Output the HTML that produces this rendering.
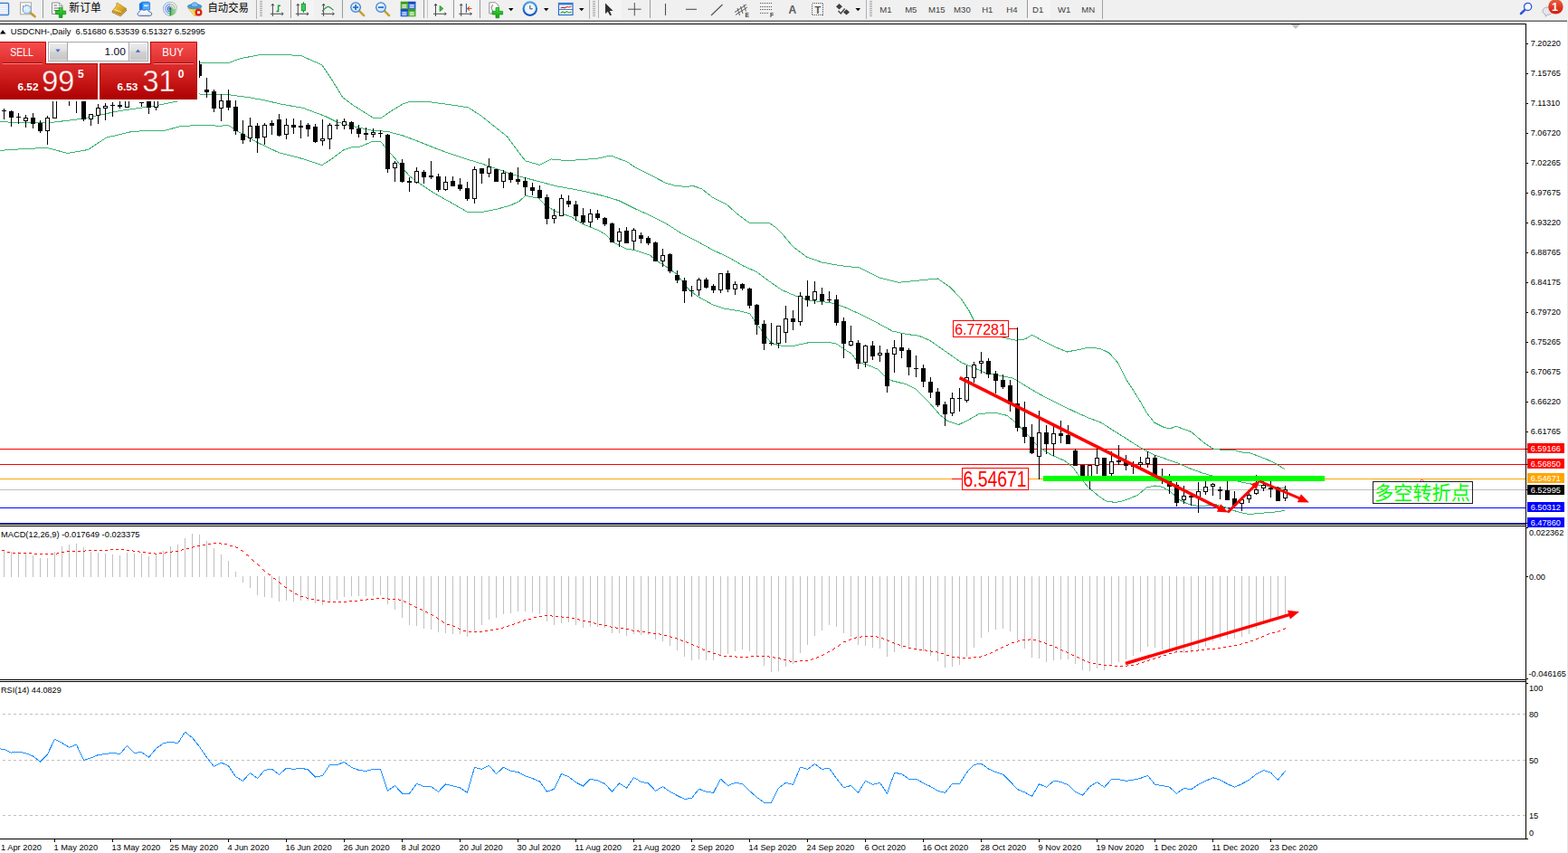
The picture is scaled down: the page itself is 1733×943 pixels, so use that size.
<!DOCTYPE html>
<html><head><meta charset="utf-8"><title>USDCNH Daily</title>
<style>html,body{margin:0;padding:0;background:#fff;}body{width:1733px;height:943px;overflow:hidden;font-family:"Liberation Sans",sans-serif;}svg{display:block}</style>
</head><body>
<svg width="1733" height="943" viewBox="0 0 1733 943">
<rect x="0" y="0" width="1733" height="943" fill="#ffffff"/>
<rect x="0" y="0" width="1733" height="21" fill="#f0f0f0"/>
<rect x="0" y="21" width="1733" height="1" fill="#f6f6f6"/>
<rect x="0" y="22" width="1732" height="1" fill="#b0b0b0"/>
<rect x="0" y="23" width="1732" height="1" fill="#666666"/>
<rect x="1732" y="22" width="1" height="921" fill="#e6e6e6"/>
<defs><clipPath id="cm"><rect x="0" y="27" width="1686" height="552"/></clipPath></defs>
<g id="main" clip-path="url(#cm)">
<g shape-rendering="crispEdges">
<rect x="0" y="496" width="1686" height="1" fill="#ff0000"/>
<rect x="0" y="513" width="1686" height="1" fill="#ff0000"/>
<rect x="0" y="529" width="1686" height="1" fill="#ffa500"/>
<rect x="0" y="541" width="1686" height="1" fill="#c0c0c0"/>
<rect x="0" y="561" width="1686" height="1" fill="#0000ff"/>
<rect x="0" y="578" width="1686" height="1" fill="#0000ff"/>
</g>
<polyline fill="none" points="218.0,69.6 221.6,69.4 251.9,69.7 266.4,64.5 286.6,60.8 309.6,60.2 332.7,61.6 355.8,71.7 367.3,89.0 378.9,107.8 390.4,116.5 402.0,123.7 413.5,130.9 420.7,130.9 430.8,123.7 445.2,115.0 453.9,112.1 477.0,113.0 503.0,116.5 517.4,118.8 531.8,128.0 546.2,139.5 560.6,151.1 572.2,166.9 580.8,177.9 596.4,182.3 609.4,175.9 625.0,177.6 640.0,176.8 661.6,175.0 670.0,173.0 676.0,172.3 682.1,174.8 692.5,178.5 701.2,184.5 718.5,193.2 735.8,202.3 746.2,205.3 756.6,206.2 767.0,205.8 775.6,208.8 787.7,218.3 803.3,226.1 813.7,235.6 827.5,246.0 850.0,246.3 857.0,251.2 865.6,259.8 874.3,270.2 877.0,273.2 891.7,284.1 908.8,290.2 930.7,293.9 949.8,295.9 972.3,307.1 993.1,312.3 1013.9,310.2 1036.4,308.0 1050.2,317.5 1062.3,330.5 1071.0,343.5 1076.2,353.9 1085.0,362.0 1095.0,368.0 1104.0,372.0 1113.7,374.4 1123.4,376.3 1133.2,374.9 1140.5,370.2 1152.7,376.8 1167.3,384.1 1179.5,389.0 1191.7,386.6 1203.9,384.1 1216.1,385.4 1225.9,390.2 1235.6,401.2 1245.4,420.7 1251.6,430.0 1260.2,443.8 1267.1,456.0 1275.8,467.2 1286.2,472.4 1293.1,474.1 1300.0,471.0 1307.0,474.1 1316.4,477.3 1329.6,488.6 1340.2,495.9 1350.9,497.5 1362.8,497.2 1372.1,499.9 1381.4,500.8 1390.7,504.2 1400.0,507.8 1409.3,512.2 1419.9,518.7" stroke="#3cb371" stroke-width="1" shape-rendering="crispEdges"/>
<polyline fill="none" points="0.0,134.8 52.0,136.0 90.0,131.4 131.5,122.7 173.0,116.6 195.6,112.0 220.0,104.0 251.0,104.5 277.0,108.0 290.0,110.4 310.8,115.1 335.0,119.4 359.2,128.4 371.4,134.5 386.9,138.8 411.2,144.2 428.5,145.4 445.8,150.1 463.1,156.6 480.4,163.6 497.7,170.0 515.0,175.7 532.3,180.9 549.6,186.9 567.0,193.0 580.0,196.6 597.3,201.0 614.6,205.8 631.9,208.8 649.2,212.2 666.5,216.5 683.9,221.7 701.2,230.4 718.5,238.2 735.8,246.8 753.1,258.1 770.4,266.7 787.7,276.3 805.0,284.4 822.3,294.4 836.2,300.5 846.0,308.0 863.3,320.1 878.9,327.0 894.4,332.2 916.9,334.5 932.5,339.1 949.8,346.9 967.1,355.6 986.2,366.0 1001.8,369.4 1015.6,371.2 1027.7,376.4 1045.0,388.5 1062.3,400.6 1074.5,405.8 1090.0,412.7 1105.6,415.3 1120.0,418.2 1139.0,430.0 1151.2,436.9 1168.5,445.6 1185.8,454.2 1203.1,462.0 1217.0,467.2 1229.0,475.0 1242.9,483.7 1255.0,491.5 1263.3,496.5 1276.5,503.2 1289.8,507.8 1303.1,512.5 1316.4,518.4 1329.6,523.1 1337.6,525.5 1353.0,528.5 1369.4,532.4 1377.4,534.0 1384.0,535.3 1395.0,537.0 1408.0,538.5 1420.0,540.0" stroke="#3cb371" stroke-width="1" shape-rendering="crispEdges"/>
<polyline fill="none" points="0.0,166.3 26.0,164.6 52.0,163.4 74.4,169.4 97.0,165.6 117.7,152.1 147.0,145.2 181.8,144.3 200.0,139.5 228.9,138.1 243.3,139.5 251.9,138.1 261.4,144.3 283.9,157.3 290.0,160.1 309.0,169.1 333.3,175.2 355.8,182.6 366.2,176.0 380.0,165.6 388.7,162.7 397.3,162.4 411.2,156.6 420.7,156.3 428.5,166.2 437.1,175.7 445.8,186.9 452.7,194.7 463.1,202.5 480.4,213.8 497.7,223.6 516.8,234.5 532.3,234.5 549.6,231.1 565.2,226.7 573.9,222.4 580.8,216.5 595.6,219.1 602.5,226.9 614.6,233.9 631.9,239.9 644.0,247.7 661.4,254.6 670.0,259.8 676.9,267.6 692.5,275.4 701.2,276.3 718.5,282.3 727.1,289.2 735.8,294.4 747.9,303.1 760.0,318.7 770.4,327.3 787.7,336.8 800.0,341.0 812.0,343.0 820.0,344.3 828.7,346.9 837.3,359.0 846.0,371.2 852.9,379.8 865.0,382.4 877.1,382.4 894.4,378.6 916.9,378.6 923.9,379.8 934.2,386.7 941.2,391.1 948.1,400.6 958.5,403.2 970.6,408.4 977.5,415.3 984.4,420.5 1001.8,424.8 1012.1,430.0 1024.3,442.1 1032.9,451.7 1038.7,458.6 1047.3,465.5 1059.4,469.5 1069.8,464.6 1081.9,457.7 1099.2,456.0 1113.1,459.4 1121.7,466.4 1133.9,478.5 1147.7,494.0 1161.6,502.7 1177.1,509.6 1185.8,516.6 1194.4,528.7 1203.1,539.1 1213.5,547.7 1222.1,553.8 1232.5,555.5 1241.2,553.8 1250.0,550.6 1258.0,547.0 1267.3,539.0 1276.5,537.0 1284.5,538.3 1293.8,543.7 1303.1,552.3 1312.4,556.9 1324.3,559.6 1334.9,558.9 1342.9,557.6 1352.0,560.0 1362.8,564.2 1372.1,566.9 1381.4,568.6 1390.7,567.5 1402.6,566.6 1413.2,565.6 1419.9,564.0" stroke="#3cb371" stroke-width="1" shape-rendering="crispEdges"/>
<g id="candles" shape-rendering="crispEdges">
<rect x="4" y="120" width="1" height="12" fill="#000"/>
<rect x="2" y="122" width="5" height="1" fill="#000"/>
<rect x="12" y="122" width="1" height="18" fill="#000"/>
<rect x="10" y="123" width="5" height="7" fill="#000"/>
<rect x="20" y="125" width="1" height="12" fill="#000"/>
<rect x="18" y="129" width="5" height="1" fill="#000"/>
<rect x="28" y="127" width="1" height="14" fill="#000"/>
<rect x="26" y="130" width="5" height="4" fill="#000"/>
<rect x="27" y="131" width="3" height="2" fill="#fff"/>
<rect x="36" y="125" width="1" height="17" fill="#000"/>
<rect x="34" y="130" width="5" height="7" fill="#000"/>
<rect x="44" y="133" width="1" height="14" fill="#000"/>
<rect x="42" y="136" width="5" height="9" fill="#000"/>
<rect x="52" y="128" width="1" height="32" fill="#000"/>
<rect x="50" y="130" width="5" height="15" fill="#000"/>
<rect x="51" y="131" width="3" height="13" fill="#fff"/>
<rect x="60" y="96" width="1" height="35" fill="#000"/>
<rect x="58" y="100" width="5" height="31" fill="#000"/>
<rect x="59" y="101" width="3" height="29" fill="#fff"/>
<rect x="68" y="97" width="1" height="12" fill="#000"/>
<rect x="66" y="100" width="5" height="6" fill="#000"/>
<rect x="76" y="100" width="1" height="17" fill="#000"/>
<rect x="74" y="104" width="5" height="4" fill="#000"/>
<rect x="84" y="98" width="1" height="27" fill="#000"/>
<rect x="82" y="100" width="5" height="6" fill="#000"/>
<rect x="92" y="104" width="1" height="30" fill="#000"/>
<rect x="90" y="108" width="5" height="24" fill="#000"/>
<rect x="100" y="126" width="1" height="13" fill="#000"/>
<rect x="98" y="126" width="5" height="6" fill="#000"/>
<rect x="99" y="127" width="3" height="4" fill="#fff"/>
<rect x="108" y="115" width="1" height="22" fill="#000"/>
<rect x="106" y="119" width="5" height="9" fill="#000"/>
<rect x="107" y="120" width="3" height="7" fill="#fff"/>
<rect x="116" y="114" width="1" height="19" fill="#000"/>
<rect x="114" y="117" width="5" height="3" fill="#000"/>
<rect x="115" y="118" width="3" height="1" fill="#fff"/>
<rect x="124" y="113" width="1" height="16" fill="#000"/>
<rect x="122" y="116" width="5" height="1" fill="#000"/>
<rect x="132" y="112" width="1" height="8" fill="#000"/>
<rect x="130" y="116" width="5" height="2" fill="#000"/>
<rect x="140" y="105" width="1" height="14" fill="#000"/>
<rect x="138" y="108" width="5" height="11" fill="#000"/>
<rect x="139" y="109" width="3" height="9" fill="#fff"/>
<rect x="148" y="100" width="1" height="10" fill="#000"/>
<rect x="146" y="104" width="5" height="5" fill="#000"/>
<rect x="147" y="105" width="3" height="3" fill="#fff"/>
<rect x="156" y="113" width="1" height="5" fill="#000"/>
<rect x="154" y="113" width="5" height="1" fill="#000"/>
<rect x="164" y="103" width="1" height="23" fill="#000"/>
<rect x="162" y="106" width="5" height="13" fill="#000"/>
<rect x="172" y="100" width="1" height="22" fill="#000"/>
<rect x="170" y="104" width="5" height="15" fill="#000"/>
<rect x="171" y="105" width="3" height="13" fill="#fff"/>
<rect x="180" y="92" width="1" height="16" fill="#000"/>
<rect x="178" y="96" width="5" height="8" fill="#000"/>
<rect x="179" y="97" width="3" height="6" fill="#fff"/>
<rect x="188" y="86" width="1" height="14" fill="#000"/>
<rect x="186" y="90" width="5" height="7" fill="#000"/>
<rect x="187" y="91" width="3" height="5" fill="#fff"/>
<rect x="196" y="78" width="1" height="16" fill="#000"/>
<rect x="194" y="82" width="5" height="9" fill="#000"/>
<rect x="195" y="83" width="3" height="7" fill="#fff"/>
<rect x="204" y="71" width="1" height="16" fill="#000"/>
<rect x="202" y="75" width="5" height="8" fill="#000"/>
<rect x="203" y="76" width="3" height="6" fill="#fff"/>
<rect x="212" y="65" width="1" height="16" fill="#000"/>
<rect x="210" y="69" width="5" height="8" fill="#000"/>
<rect x="211" y="70" width="3" height="6" fill="#fff"/>
<rect x="220" y="67" width="1" height="19" fill="#000"/>
<rect x="218" y="71" width="5" height="13" fill="#000"/>
<rect x="228" y="86" width="1" height="22" fill="#000"/>
<rect x="226" y="99" width="5" height="3" fill="#000"/>
<rect x="236" y="99" width="1" height="25" fill="#000"/>
<rect x="234" y="101" width="5" height="19" fill="#000"/>
<rect x="244" y="104" width="1" height="30" fill="#000"/>
<rect x="242" y="111" width="5" height="9" fill="#000"/>
<rect x="243" y="112" width="3" height="7" fill="#fff"/>
<rect x="252" y="99" width="1" height="23" fill="#000"/>
<rect x="250" y="111" width="5" height="8" fill="#000"/>
<rect x="260" y="111" width="1" height="38" fill="#000"/>
<rect x="258" y="118" width="5" height="27" fill="#000"/>
<rect x="268" y="133" width="1" height="26" fill="#000"/>
<rect x="266" y="148" width="5" height="7" fill="#000"/>
<rect x="276" y="130" width="1" height="27" fill="#000"/>
<rect x="274" y="139" width="5" height="14" fill="#000"/>
<rect x="275" y="140" width="3" height="12" fill="#fff"/>
<rect x="284" y="136" width="1" height="33" fill="#000"/>
<rect x="282" y="139" width="5" height="14" fill="#000"/>
<rect x="292" y="136" width="1" height="24" fill="#000"/>
<rect x="290" y="138" width="5" height="14" fill="#000"/>
<rect x="291" y="139" width="3" height="12" fill="#fff"/>
<rect x="300" y="133" width="1" height="16" fill="#000"/>
<rect x="298" y="136" width="5" height="3" fill="#000"/>
<rect x="308" y="126" width="1" height="25" fill="#000"/>
<rect x="306" y="132" width="5" height="18" fill="#000"/>
<rect x="316" y="131" width="1" height="23" fill="#000"/>
<rect x="314" y="138" width="5" height="11" fill="#000"/>
<rect x="315" y="139" width="3" height="9" fill="#fff"/>
<rect x="324" y="131" width="1" height="17" fill="#000"/>
<rect x="322" y="138" width="5" height="3" fill="#000"/>
<rect x="332" y="133" width="1" height="20" fill="#000"/>
<rect x="330" y="139" width="5" height="2" fill="#000"/>
<rect x="340" y="136" width="1" height="15" fill="#000"/>
<rect x="338" y="138" width="5" height="5" fill="#000"/>
<rect x="348" y="137" width="1" height="21" fill="#000"/>
<rect x="346" y="140" width="5" height="17" fill="#000"/>
<rect x="356" y="132" width="1" height="29" fill="#000"/>
<rect x="354" y="153" width="5" height="3" fill="#000"/>
<rect x="355" y="154" width="3" height="1" fill="#fff"/>
<rect x="364" y="136" width="1" height="29" fill="#000"/>
<rect x="362" y="138" width="5" height="16" fill="#000"/>
<rect x="363" y="139" width="3" height="14" fill="#fff"/>
<rect x="372" y="132" width="1" height="11" fill="#000"/>
<rect x="370" y="138" width="5" height="1" fill="#000"/>
<rect x="380" y="131" width="1" height="12" fill="#000"/>
<rect x="378" y="134" width="5" height="5" fill="#000"/>
<rect x="379" y="135" width="3" height="3" fill="#fff"/>
<rect x="388" y="134" width="1" height="14" fill="#000"/>
<rect x="386" y="135" width="5" height="8" fill="#000"/>
<rect x="396" y="138" width="1" height="14" fill="#000"/>
<rect x="394" y="142" width="5" height="6" fill="#000"/>
<rect x="404" y="141" width="1" height="14" fill="#000"/>
<rect x="402" y="147" width="5" height="2" fill="#000"/>
<rect x="412" y="142" width="1" height="10" fill="#000"/>
<rect x="410" y="146" width="5" height="3" fill="#000"/>
<rect x="411" y="147" width="3" height="1" fill="#fff"/>
<rect x="420" y="144" width="1" height="8" fill="#000"/>
<rect x="418" y="147" width="5" height="1" fill="#000"/>
<rect x="428" y="148" width="1" height="43" fill="#000"/>
<rect x="426" y="149" width="5" height="38" fill="#000"/>
<rect x="436" y="178" width="1" height="23" fill="#000"/>
<rect x="434" y="180" width="5" height="6" fill="#000"/>
<rect x="435" y="181" width="3" height="4" fill="#fff"/>
<rect x="444" y="176" width="1" height="26" fill="#000"/>
<rect x="442" y="180" width="5" height="21" fill="#000"/>
<rect x="452" y="196" width="1" height="16" fill="#000"/>
<rect x="450" y="200" width="5" height="2" fill="#000"/>
<rect x="460" y="185" width="1" height="18" fill="#000"/>
<rect x="458" y="189" width="5" height="13" fill="#000"/>
<rect x="459" y="190" width="3" height="11" fill="#fff"/>
<rect x="468" y="188" width="1" height="15" fill="#000"/>
<rect x="466" y="190" width="5" height="6" fill="#000"/>
<rect x="476" y="178" width="1" height="20" fill="#000"/>
<rect x="474" y="194" width="5" height="2" fill="#000"/>
<rect x="484" y="192" width="1" height="20" fill="#000"/>
<rect x="482" y="195" width="5" height="15" fill="#000"/>
<rect x="492" y="195" width="1" height="16" fill="#000"/>
<rect x="490" y="201" width="5" height="9" fill="#000"/>
<rect x="491" y="202" width="3" height="7" fill="#fff"/>
<rect x="500" y="195" width="1" height="11" fill="#000"/>
<rect x="498" y="200" width="5" height="6" fill="#000"/>
<rect x="508" y="197" width="1" height="14" fill="#000"/>
<rect x="506" y="204" width="5" height="5" fill="#000"/>
<rect x="516" y="201" width="1" height="21" fill="#000"/>
<rect x="514" y="208" width="5" height="12" fill="#000"/>
<rect x="524" y="184" width="1" height="41" fill="#000"/>
<rect x="522" y="187" width="5" height="33" fill="#000"/>
<rect x="523" y="188" width="3" height="31" fill="#fff"/>
<rect x="532" y="186" width="1" height="17" fill="#000"/>
<rect x="530" y="186" width="5" height="6" fill="#000"/>
<rect x="540" y="175" width="1" height="21" fill="#000"/>
<rect x="538" y="184" width="5" height="8" fill="#000"/>
<rect x="539" y="185" width="3" height="6" fill="#fff"/>
<rect x="548" y="187" width="1" height="14" fill="#000"/>
<rect x="546" y="187" width="5" height="14" fill="#000"/>
<rect x="556" y="188" width="1" height="20" fill="#000"/>
<rect x="554" y="191" width="5" height="10" fill="#000"/>
<rect x="555" y="192" width="3" height="8" fill="#fff"/>
<rect x="564" y="190" width="1" height="12" fill="#000"/>
<rect x="562" y="191" width="5" height="8" fill="#000"/>
<rect x="572" y="185" width="1" height="19" fill="#000"/>
<rect x="570" y="198" width="5" height="3" fill="#000"/>
<rect x="580" y="196" width="1" height="20" fill="#000"/>
<rect x="578" y="200" width="5" height="7" fill="#000"/>
<rect x="588" y="202" width="1" height="14" fill="#000"/>
<rect x="586" y="207" width="5" height="4" fill="#000"/>
<rect x="596" y="205" width="1" height="14" fill="#000"/>
<rect x="594" y="210" width="5" height="9" fill="#000"/>
<rect x="604" y="215" width="1" height="33" fill="#000"/>
<rect x="602" y="218" width="5" height="24" fill="#000"/>
<rect x="612" y="231" width="1" height="16" fill="#000"/>
<rect x="610" y="238" width="5" height="4" fill="#000"/>
<rect x="611" y="239" width="3" height="2" fill="#fff"/>
<rect x="620" y="215" width="1" height="24" fill="#000"/>
<rect x="618" y="219" width="5" height="20" fill="#000"/>
<rect x="619" y="220" width="3" height="18" fill="#fff"/>
<rect x="628" y="216" width="1" height="13" fill="#000"/>
<rect x="626" y="222" width="5" height="4" fill="#000"/>
<rect x="636" y="222" width="1" height="22" fill="#000"/>
<rect x="634" y="226" width="5" height="13" fill="#000"/>
<rect x="644" y="230" width="1" height="18" fill="#000"/>
<rect x="642" y="238" width="5" height="8" fill="#000"/>
<rect x="652" y="231" width="1" height="20" fill="#000"/>
<rect x="650" y="236" width="5" height="10" fill="#000"/>
<rect x="651" y="237" width="3" height="8" fill="#fff"/>
<rect x="660" y="232" width="1" height="11" fill="#000"/>
<rect x="658" y="236" width="5" height="5" fill="#000"/>
<rect x="668" y="240" width="1" height="10" fill="#000"/>
<rect x="666" y="241" width="5" height="7" fill="#000"/>
<rect x="676" y="246" width="1" height="22" fill="#000"/>
<rect x="674" y="247" width="5" height="21" fill="#000"/>
<rect x="684" y="252" width="1" height="21" fill="#000"/>
<rect x="682" y="256" width="5" height="11" fill="#000"/>
<rect x="683" y="257" width="3" height="9" fill="#fff"/>
<rect x="692" y="251" width="1" height="18" fill="#000"/>
<rect x="690" y="255" width="5" height="14" fill="#000"/>
<rect x="700" y="252" width="1" height="24" fill="#000"/>
<rect x="698" y="254" width="5" height="13" fill="#000"/>
<rect x="699" y="255" width="3" height="11" fill="#fff"/>
<rect x="708" y="257" width="1" height="12" fill="#000"/>
<rect x="706" y="260" width="5" height="4" fill="#000"/>
<rect x="716" y="261" width="1" height="10" fill="#000"/>
<rect x="714" y="263" width="5" height="6" fill="#000"/>
<rect x="724" y="267" width="1" height="22" fill="#000"/>
<rect x="722" y="268" width="5" height="21" fill="#000"/>
<rect x="732" y="275" width="1" height="20" fill="#000"/>
<rect x="730" y="282" width="5" height="7" fill="#000"/>
<rect x="731" y="283" width="3" height="5" fill="#fff"/>
<rect x="740" y="280" width="1" height="22" fill="#000"/>
<rect x="738" y="281" width="5" height="19" fill="#000"/>
<rect x="748" y="299" width="1" height="14" fill="#000"/>
<rect x="746" y="304" width="5" height="6" fill="#000"/>
<rect x="756" y="307" width="1" height="28" fill="#000"/>
<rect x="754" y="310" width="5" height="12" fill="#000"/>
<rect x="764" y="316" width="1" height="12" fill="#000"/>
<rect x="762" y="321" width="5" height="1" fill="#000"/>
<rect x="772" y="307" width="1" height="20" fill="#000"/>
<rect x="770" y="309" width="5" height="12" fill="#000"/>
<rect x="771" y="310" width="3" height="10" fill="#fff"/>
<rect x="780" y="307" width="1" height="12" fill="#000"/>
<rect x="778" y="309" width="5" height="9" fill="#000"/>
<rect x="788" y="314" width="1" height="10" fill="#000"/>
<rect x="786" y="316" width="5" height="5" fill="#000"/>
<rect x="796" y="302" width="1" height="22" fill="#000"/>
<rect x="794" y="302" width="5" height="19" fill="#000"/>
<rect x="795" y="303" width="3" height="17" fill="#fff"/>
<rect x="804" y="299" width="1" height="24" fill="#000"/>
<rect x="802" y="302" width="5" height="18" fill="#000"/>
<rect x="812" y="311" width="1" height="15" fill="#000"/>
<rect x="810" y="314" width="5" height="6" fill="#000"/>
<rect x="811" y="315" width="3" height="4" fill="#fff"/>
<rect x="820" y="313" width="1" height="8" fill="#000"/>
<rect x="818" y="314" width="5" height="5" fill="#000"/>
<rect x="828" y="318" width="1" height="23" fill="#000"/>
<rect x="826" y="319" width="5" height="19" fill="#000"/>
<rect x="836" y="336" width="1" height="34" fill="#000"/>
<rect x="834" y="337" width="5" height="22" fill="#000"/>
<rect x="844" y="354" width="1" height="33" fill="#000"/>
<rect x="842" y="358" width="5" height="22" fill="#000"/>
<rect x="852" y="357" width="1" height="25" fill="#000"/>
<rect x="850" y="379" width="5" height="1" fill="#000"/>
<rect x="860" y="360" width="1" height="25" fill="#000"/>
<rect x="858" y="360" width="5" height="20" fill="#000"/>
<rect x="859" y="361" width="3" height="18" fill="#fff"/>
<rect x="868" y="338" width="1" height="41" fill="#000"/>
<rect x="866" y="352" width="5" height="16" fill="#000"/>
<rect x="867" y="353" width="3" height="14" fill="#fff"/>
<rect x="876" y="343" width="1" height="22" fill="#000"/>
<rect x="874" y="352" width="5" height="4" fill="#000"/>
<rect x="884" y="323" width="1" height="37" fill="#000"/>
<rect x="882" y="327" width="5" height="29" fill="#000"/>
<rect x="883" y="328" width="3" height="27" fill="#fff"/>
<rect x="892" y="310" width="1" height="29" fill="#000"/>
<rect x="890" y="327" width="5" height="5" fill="#000"/>
<rect x="900" y="311" width="1" height="25" fill="#000"/>
<rect x="898" y="322" width="5" height="10" fill="#000"/>
<rect x="899" y="323" width="3" height="8" fill="#fff"/>
<rect x="908" y="318" width="1" height="19" fill="#000"/>
<rect x="906" y="325" width="5" height="8" fill="#000"/>
<rect x="916" y="322" width="1" height="12" fill="#000"/>
<rect x="914" y="331" width="5" height="1" fill="#000"/>
<rect x="924" y="326" width="1" height="34" fill="#000"/>
<rect x="922" y="331" width="5" height="26" fill="#000"/>
<rect x="932" y="351" width="1" height="45" fill="#000"/>
<rect x="930" y="355" width="5" height="25" fill="#000"/>
<rect x="940" y="360" width="1" height="23" fill="#000"/>
<rect x="938" y="377" width="5" height="5" fill="#000"/>
<rect x="939" y="378" width="3" height="3" fill="#fff"/>
<rect x="948" y="376" width="1" height="32" fill="#000"/>
<rect x="946" y="379" width="5" height="23" fill="#000"/>
<rect x="956" y="381" width="1" height="25" fill="#000"/>
<rect x="954" y="382" width="5" height="19" fill="#000"/>
<rect x="955" y="383" width="3" height="17" fill="#fff"/>
<rect x="964" y="377" width="1" height="21" fill="#000"/>
<rect x="962" y="382" width="5" height="12" fill="#000"/>
<rect x="972" y="382" width="1" height="18" fill="#000"/>
<rect x="970" y="390" width="5" height="3" fill="#000"/>
<rect x="971" y="391" width="3" height="1" fill="#fff"/>
<rect x="980" y="386" width="1" height="48" fill="#000"/>
<rect x="978" y="390" width="5" height="37" fill="#000"/>
<rect x="988" y="376" width="1" height="36" fill="#000"/>
<rect x="986" y="384" width="5" height="8" fill="#000"/>
<rect x="987" y="385" width="3" height="6" fill="#fff"/>
<rect x="996" y="369" width="1" height="27" fill="#000"/>
<rect x="994" y="384" width="5" height="4" fill="#000"/>
<rect x="1004" y="385" width="1" height="30" fill="#000"/>
<rect x="1002" y="387" width="5" height="19" fill="#000"/>
<rect x="1012" y="393" width="1" height="24" fill="#000"/>
<rect x="1010" y="407" width="5" height="1" fill="#000"/>
<rect x="1020" y="403" width="1" height="25" fill="#000"/>
<rect x="1018" y="407" width="5" height="15" fill="#000"/>
<rect x="1028" y="417" width="1" height="23" fill="#000"/>
<rect x="1026" y="422" width="5" height="12" fill="#000"/>
<rect x="1036" y="429" width="1" height="21" fill="#000"/>
<rect x="1034" y="433" width="5" height="15" fill="#000"/>
<rect x="1044" y="444" width="1" height="27" fill="#000"/>
<rect x="1042" y="447" width="5" height="11" fill="#000"/>
<rect x="1052" y="434" width="1" height="26" fill="#000"/>
<rect x="1050" y="440" width="5" height="17" fill="#000"/>
<rect x="1051" y="441" width="3" height="15" fill="#fff"/>
<rect x="1060" y="429" width="1" height="26" fill="#000"/>
<rect x="1058" y="440" width="5" height="1" fill="#000"/>
<rect x="1068" y="404" width="1" height="41" fill="#000"/>
<rect x="1066" y="417" width="5" height="26" fill="#000"/>
<rect x="1067" y="418" width="3" height="24" fill="#fff"/>
<rect x="1076" y="400" width="1" height="23" fill="#000"/>
<rect x="1074" y="403" width="5" height="15" fill="#000"/>
<rect x="1075" y="404" width="3" height="13" fill="#fff"/>
<rect x="1084" y="389" width="1" height="24" fill="#000"/>
<rect x="1082" y="399" width="5" height="3" fill="#000"/>
<rect x="1083" y="400" width="3" height="1" fill="#fff"/>
<rect x="1092" y="396" width="1" height="22" fill="#000"/>
<rect x="1090" y="399" width="5" height="15" fill="#000"/>
<rect x="1100" y="410" width="1" height="25" fill="#000"/>
<rect x="1098" y="413" width="5" height="8" fill="#000"/>
<rect x="1108" y="414" width="1" height="16" fill="#000"/>
<rect x="1106" y="420" width="5" height="8" fill="#000"/>
<rect x="1116" y="420" width="1" height="35" fill="#000"/>
<rect x="1114" y="426" width="5" height="21" fill="#000"/>
<rect x="1124" y="362" width="1" height="115" fill="#000"/>
<rect x="1122" y="446" width="5" height="27" fill="#000"/>
<rect x="1132" y="444" width="1" height="46" fill="#000"/>
<rect x="1130" y="472" width="5" height="11" fill="#000"/>
<rect x="1140" y="469" width="1" height="33" fill="#000"/>
<rect x="1138" y="483" width="5" height="18" fill="#000"/>
<rect x="1148" y="454" width="1" height="76" fill="#000"/>
<rect x="1146" y="478" width="5" height="27" fill="#000"/>
<rect x="1147" y="479" width="3" height="25" fill="#fff"/>
<rect x="1156" y="470" width="1" height="32" fill="#000"/>
<rect x="1154" y="478" width="5" height="13" fill="#000"/>
<rect x="1164" y="470" width="1" height="34" fill="#000"/>
<rect x="1162" y="479" width="5" height="12" fill="#000"/>
<rect x="1163" y="480" width="3" height="10" fill="#fff"/>
<rect x="1172" y="465" width="1" height="25" fill="#000"/>
<rect x="1170" y="479" width="5" height="3" fill="#000"/>
<rect x="1180" y="470" width="1" height="21" fill="#000"/>
<rect x="1178" y="481" width="5" height="10" fill="#000"/>
<rect x="1188" y="496" width="1" height="19" fill="#000"/>
<rect x="1186" y="498" width="5" height="17" fill="#000"/>
<rect x="1196" y="514" width="1" height="15" fill="#000"/>
<rect x="1194" y="514" width="5" height="15" fill="#000"/>
<rect x="1204" y="514" width="1" height="27" fill="#000"/>
<rect x="1202" y="514" width="5" height="15" fill="#000"/>
<rect x="1203" y="515" width="3" height="13" fill="#fff"/>
<rect x="1212" y="496" width="1" height="28" fill="#000"/>
<rect x="1210" y="506" width="5" height="9" fill="#000"/>
<rect x="1211" y="507" width="3" height="7" fill="#fff"/>
<rect x="1220" y="506" width="1" height="23" fill="#000"/>
<rect x="1218" y="506" width="5" height="23" fill="#000"/>
<rect x="1228" y="499" width="1" height="27" fill="#000"/>
<rect x="1226" y="510" width="5" height="14" fill="#000"/>
<rect x="1227" y="511" width="3" height="12" fill="#fff"/>
<rect x="1236" y="492" width="1" height="22" fill="#000"/>
<rect x="1234" y="509" width="5" height="2" fill="#000"/>
<rect x="1244" y="503" width="1" height="17" fill="#000"/>
<rect x="1242" y="510" width="5" height="5" fill="#000"/>
<rect x="1252" y="510" width="1" height="14" fill="#000"/>
<rect x="1250" y="515" width="5" height="1" fill="#000"/>
<rect x="1260" y="505" width="1" height="11" fill="#000"/>
<rect x="1258" y="511" width="5" height="3" fill="#000"/>
<rect x="1259" y="512" width="3" height="1" fill="#fff"/>
<rect x="1268" y="499" width="1" height="18" fill="#000"/>
<rect x="1266" y="506" width="5" height="7" fill="#000"/>
<rect x="1267" y="507" width="3" height="5" fill="#fff"/>
<rect x="1276" y="503" width="1" height="24" fill="#000"/>
<rect x="1274" y="506" width="5" height="21" fill="#000"/>
<rect x="1284" y="518" width="1" height="17" fill="#000"/>
<rect x="1282" y="528" width="5" height="2" fill="#000"/>
<rect x="1292" y="524" width="1" height="22" fill="#000"/>
<rect x="1290" y="532" width="5" height="6" fill="#000"/>
<rect x="1300" y="533" width="1" height="27" fill="#000"/>
<rect x="1298" y="536" width="5" height="20" fill="#000"/>
<rect x="1308" y="537" width="1" height="20" fill="#000"/>
<rect x="1306" y="548" width="5" height="5" fill="#000"/>
<rect x="1307" y="549" width="3" height="3" fill="#fff"/>
<rect x="1316" y="546" width="1" height="13" fill="#000"/>
<rect x="1314" y="548" width="5" height="2" fill="#000"/>
<rect x="1324" y="533" width="1" height="34" fill="#000"/>
<rect x="1322" y="543" width="5" height="8" fill="#000"/>
<rect x="1323" y="544" width="3" height="6" fill="#fff"/>
<rect x="1332" y="532" width="1" height="15" fill="#000"/>
<rect x="1330" y="538" width="5" height="6" fill="#000"/>
<rect x="1331" y="539" width="3" height="4" fill="#fff"/>
<rect x="1340" y="534" width="1" height="14" fill="#000"/>
<rect x="1338" y="535" width="5" height="3" fill="#000"/>
<rect x="1339" y="536" width="3" height="1" fill="#fff"/>
<rect x="1348" y="538" width="1" height="14" fill="#000"/>
<rect x="1346" y="541" width="5" height="2" fill="#000"/>
<rect x="1356" y="532" width="1" height="21" fill="#000"/>
<rect x="1354" y="542" width="5" height="11" fill="#000"/>
<rect x="1364" y="543" width="1" height="16" fill="#000"/>
<rect x="1362" y="551" width="5" height="8" fill="#000"/>
<rect x="1372" y="552" width="1" height="13" fill="#000"/>
<rect x="1370" y="552" width="5" height="5" fill="#000"/>
<rect x="1371" y="553" width="3" height="3" fill="#fff"/>
<rect x="1380" y="541" width="1" height="15" fill="#000"/>
<rect x="1378" y="547" width="5" height="5" fill="#000"/>
<rect x="1379" y="548" width="3" height="3" fill="#fff"/>
<rect x="1388" y="525" width="1" height="22" fill="#000"/>
<rect x="1386" y="541" width="5" height="5" fill="#000"/>
<rect x="1387" y="542" width="3" height="3" fill="#fff"/>
<rect x="1396" y="532" width="1" height="11" fill="#000"/>
<rect x="1394" y="536" width="5" height="4" fill="#000"/>
<rect x="1395" y="537" width="3" height="2" fill="#fff"/>
<rect x="1404" y="532" width="1" height="18" fill="#000"/>
<rect x="1402" y="539" width="5" height="2" fill="#000"/>
<rect x="1412" y="538" width="1" height="16" fill="#000"/>
<rect x="1410" y="539" width="5" height="15" fill="#000"/>
<rect x="1420" y="537" width="1" height="17" fill="#000"/>
<rect x="1418" y="541" width="5" height="10" fill="#000"/>
<rect x="1419" y="542" width="3" height="8" fill="#fff"/>
</g>
</g>
<rect x="1153" y="526" width="311" height="6" fill="#00ff00" shape-rendering="crispEdges"/>
<g shape-rendering="crispEdges"><rect x="1053.5" y="354.5" width="61" height="18" fill="#fff" stroke="#ff0000" stroke-width="1"/><rect x="1115" y="363" width="9" height="1" fill="#ff0000"/></g>
<text x="1084" y="369.5" font-family="Liberation Sans, sans-serif" font-size="16.9" fill="#ff0000" text-anchor="middle" textLength="57.6" lengthAdjust="spacingAndGlyphs">6.77281</text>
<g shape-rendering="crispEdges"><rect x="1052" y="529" width="12" height="1" fill="#ff0000"/><rect x="1063.5" y="517.5" width="73" height="24" fill="#fff" stroke="#ff0000" stroke-width="1"/></g>
<text x="1099.6" y="538" font-family="Liberation Sans, sans-serif" font-size="23.4" fill="#ff0000" text-anchor="middle" textLength="70" lengthAdjust="spacingAndGlyphs">6.54671</text>
<line x1="1060.6" y1="417.6" x2="1351.1" y2="563.5" stroke="#ff0000" stroke-width="3.6" stroke-linecap="butt"/><polygon points="1357.3,566.6 1344.9,565.7 1349.2,557.2" fill="#ff0000"/>
<line x1="1356.9" y1="566.3" x2="1388.3" y2="535.5" stroke="#ff0000" stroke-width="3.1" stroke-linecap="butt"/><polygon points="1392.6,531.3 1388.4,541.3 1382.5,535.3" fill="#ff0000"/>
<line x1="1392.3" y1="532.0" x2="1440.3" y2="552.7" stroke="#ff0000" stroke-width="2.9" stroke-linecap="butt"/><polygon points="1446.9,555.5 1433.9,555.3 1437.9,546.2" fill="#ff0000"/>
<rect x="1517.5" y="532.5" width="110" height="24" fill="#fff" stroke="#202020" stroke-width="1" shape-rendering="crispEdges"/>
<rect x="1518" y="541" width="109" height="1" fill="#c0c0c0" shape-rendering="crispEdges"/>
<text x="1519" y="551.6" font-family="Liberation Sans, Noto Sans CJK SC, sans-serif" font-size="21" fill="#00ff00" text-anchor="start" textLength="106" lengthAdjust="spacingAndGlyphs">多空转折点</text>
<path d="M1569.5 532 L1571.5 530 L1573.5 532" stroke="#ff00ff" stroke-width="1" fill="none"/>
<g shape-rendering="crispEdges" fill="#000">
<rect x="0" y="26" width="1687" height="1"/>
<rect x="1686" y="26" width="1" height="902"/>
<rect x="0" y="579" width="1687" height="1"/>
<rect x="0" y="580" width="1686" height="1" fill="#fff"/>
<rect x="0" y="581" width="1687" height="1"/>
<rect x="0" y="751" width="1687" height="1"/>
<rect x="0" y="752" width="1686" height="1" fill="#fff"/>
<rect x="0" y="753" width="1687" height="1"/>
<rect x="0" y="927" width="1687" height="1"/>
</g>
<g shape-rendering="crispEdges">
<rect x="4" y="609" width="1" height="29" fill="#c0c0c0"/>
<rect x="12" y="610" width="1" height="28" fill="#c0c0c0"/>
<rect x="20" y="610" width="1" height="28" fill="#c0c0c0"/>
<rect x="28" y="611" width="1" height="27" fill="#c0c0c0"/>
<rect x="36" y="614" width="1" height="24" fill="#c0c0c0"/>
<rect x="44" y="617" width="1" height="21" fill="#c0c0c0"/>
<rect x="52" y="617" width="1" height="21" fill="#c0c0c0"/>
<rect x="60" y="610" width="1" height="28" fill="#c0c0c0"/>
<rect x="68" y="604" width="1" height="34" fill="#c0c0c0"/>
<rect x="76" y="602" width="1" height="36" fill="#c0c0c0"/>
<rect x="84" y="601" width="1" height="37" fill="#c0c0c0"/>
<rect x="92" y="605" width="1" height="33" fill="#c0c0c0"/>
<rect x="100" y="610" width="1" height="28" fill="#c0c0c0"/>
<rect x="108" y="611" width="1" height="27" fill="#c0c0c0"/>
<rect x="116" y="612" width="1" height="26" fill="#c0c0c0"/>
<rect x="124" y="613" width="1" height="25" fill="#c0c0c0"/>
<rect x="132" y="614" width="1" height="24" fill="#c0c0c0"/>
<rect x="140" y="611" width="1" height="27" fill="#c0c0c0"/>
<rect x="148" y="612" width="1" height="26" fill="#c0c0c0"/>
<rect x="156" y="612" width="1" height="26" fill="#c0c0c0"/>
<rect x="164" y="615" width="1" height="23" fill="#c0c0c0"/>
<rect x="172" y="613" width="1" height="25" fill="#c0c0c0"/>
<rect x="180" y="609" width="1" height="29" fill="#c0c0c0"/>
<rect x="188" y="604" width="1" height="34" fill="#c0c0c0"/>
<rect x="196" y="602" width="1" height="36" fill="#c0c0c0"/>
<rect x="204" y="595" width="1" height="43" fill="#c0c0c0"/>
<rect x="212" y="590" width="1" height="48" fill="#c0c0c0"/>
<rect x="220" y="591" width="1" height="47" fill="#c0c0c0"/>
<rect x="228" y="598" width="1" height="40" fill="#c0c0c0"/>
<rect x="236" y="606" width="1" height="32" fill="#c0c0c0"/>
<rect x="244" y="613" width="1" height="25" fill="#c0c0c0"/>
<rect x="252" y="620" width="1" height="18" fill="#c0c0c0"/>
<rect x="260" y="632" width="1" height="6" fill="#c0c0c0"/>
<rect x="268" y="637" width="1" height="7" fill="#c0c0c0"/>
<rect x="276" y="637" width="1" height="13" fill="#c0c0c0"/>
<rect x="284" y="637" width="1" height="21" fill="#c0c0c0"/>
<rect x="292" y="637" width="1" height="23" fill="#c0c0c0"/>
<rect x="300" y="637" width="1" height="24" fill="#c0c0c0"/>
<rect x="308" y="637" width="1" height="28" fill="#c0c0c0"/>
<rect x="316" y="637" width="1" height="27" fill="#c0c0c0"/>
<rect x="324" y="637" width="1" height="28" fill="#c0c0c0"/>
<rect x="332" y="637" width="1" height="27" fill="#c0c0c0"/>
<rect x="340" y="637" width="1" height="27" fill="#c0c0c0"/>
<rect x="348" y="637" width="1" height="30" fill="#c0c0c0"/>
<rect x="356" y="637" width="1" height="32" fill="#c0c0c0"/>
<rect x="364" y="637" width="1" height="28" fill="#c0c0c0"/>
<rect x="372" y="637" width="1" height="26" fill="#c0c0c0"/>
<rect x="380" y="637" width="1" height="23" fill="#c0c0c0"/>
<rect x="388" y="637" width="1" height="22" fill="#c0c0c0"/>
<rect x="396" y="637" width="1" height="22" fill="#c0c0c0"/>
<rect x="404" y="637" width="1" height="22" fill="#c0c0c0"/>
<rect x="412" y="637" width="1" height="22" fill="#c0c0c0"/>
<rect x="420" y="637" width="1" height="21" fill="#c0c0c0"/>
<rect x="428" y="637" width="1" height="31" fill="#c0c0c0"/>
<rect x="436" y="637" width="1" height="37" fill="#c0c0c0"/>
<rect x="444" y="637" width="1" height="46" fill="#c0c0c0"/>
<rect x="452" y="637" width="1" height="54" fill="#c0c0c0"/>
<rect x="460" y="637" width="1" height="55" fill="#c0c0c0"/>
<rect x="468" y="637" width="1" height="58" fill="#c0c0c0"/>
<rect x="476" y="637" width="1" height="59" fill="#c0c0c0"/>
<rect x="484" y="637" width="1" height="62" fill="#c0c0c0"/>
<rect x="492" y="637" width="1" height="63" fill="#c0c0c0"/>
<rect x="500" y="637" width="1" height="64" fill="#c0c0c0"/>
<rect x="508" y="637" width="1" height="64" fill="#c0c0c0"/>
<rect x="516" y="637" width="1" height="67" fill="#c0c0c0"/>
<rect x="524" y="637" width="1" height="60" fill="#c0c0c0"/>
<rect x="532" y="637" width="1" height="54" fill="#c0c0c0"/>
<rect x="540" y="637" width="1" height="48" fill="#c0c0c0"/>
<rect x="548" y="637" width="1" height="46" fill="#c0c0c0"/>
<rect x="556" y="637" width="1" height="42" fill="#c0c0c0"/>
<rect x="564" y="637" width="1" height="41" fill="#c0c0c0"/>
<rect x="572" y="637" width="1" height="39" fill="#c0c0c0"/>
<rect x="580" y="637" width="1" height="39" fill="#c0c0c0"/>
<rect x="588" y="637" width="1" height="40" fill="#c0c0c0"/>
<rect x="596" y="637" width="1" height="42" fill="#c0c0c0"/>
<rect x="604" y="637" width="1" height="50" fill="#c0c0c0"/>
<rect x="612" y="637" width="1" height="54" fill="#c0c0c0"/>
<rect x="620" y="637" width="1" height="52" fill="#c0c0c0"/>
<rect x="628" y="637" width="1" height="51" fill="#c0c0c0"/>
<rect x="636" y="637" width="1" height="54" fill="#c0c0c0"/>
<rect x="644" y="637" width="1" height="57" fill="#c0c0c0"/>
<rect x="652" y="637" width="1" height="56" fill="#c0c0c0"/>
<rect x="660" y="637" width="1" height="56" fill="#c0c0c0"/>
<rect x="668" y="637" width="1" height="57" fill="#c0c0c0"/>
<rect x="676" y="637" width="1" height="63" fill="#c0c0c0"/>
<rect x="684" y="637" width="1" height="63" fill="#c0c0c0"/>
<rect x="692" y="637" width="1" height="66" fill="#c0c0c0"/>
<rect x="700" y="637" width="1" height="64" fill="#c0c0c0"/>
<rect x="708" y="637" width="1" height="65" fill="#c0c0c0"/>
<rect x="716" y="637" width="1" height="65" fill="#c0c0c0"/>
<rect x="724" y="637" width="1" height="70" fill="#c0c0c0"/>
<rect x="732" y="637" width="1" height="72" fill="#c0c0c0"/>
<rect x="740" y="637" width="1" height="77" fill="#c0c0c0"/>
<rect x="748" y="637" width="1" height="82" fill="#c0c0c0"/>
<rect x="756" y="637" width="1" height="89" fill="#c0c0c0"/>
<rect x="764" y="637" width="1" height="93" fill="#c0c0c0"/>
<rect x="772" y="637" width="1" height="92" fill="#c0c0c0"/>
<rect x="780" y="637" width="1" height="93" fill="#c0c0c0"/>
<rect x="788" y="637" width="1" height="93" fill="#c0c0c0"/>
<rect x="796" y="637" width="1" height="87" fill="#c0c0c0"/>
<rect x="804" y="637" width="1" height="86" fill="#c0c0c0"/>
<rect x="812" y="637" width="1" height="83" fill="#c0c0c0"/>
<rect x="820" y="637" width="1" height="81" fill="#c0c0c0"/>
<rect x="828" y="637" width="1" height="83" fill="#c0c0c0"/>
<rect x="836" y="637" width="1" height="89" fill="#c0c0c0"/>
<rect x="844" y="637" width="1" height="99" fill="#c0c0c0"/>
<rect x="852" y="637" width="1" height="106" fill="#c0c0c0"/>
<rect x="860" y="637" width="1" height="105" fill="#c0c0c0"/>
<rect x="868" y="637" width="1" height="100" fill="#c0c0c0"/>
<rect x="876" y="637" width="1" height="97" fill="#c0c0c0"/>
<rect x="884" y="637" width="1" height="85" fill="#c0c0c0"/>
<rect x="892" y="637" width="1" height="76" fill="#c0c0c0"/>
<rect x="900" y="637" width="1" height="66" fill="#c0c0c0"/>
<rect x="908" y="637" width="1" height="60" fill="#c0c0c0"/>
<rect x="916" y="637" width="1" height="54" fill="#c0c0c0"/>
<rect x="924" y="637" width="1" height="56" fill="#c0c0c0"/>
<rect x="932" y="637" width="1" height="63" fill="#c0c0c0"/>
<rect x="940" y="637" width="1" height="67" fill="#c0c0c0"/>
<rect x="948" y="637" width="1" height="76" fill="#c0c0c0"/>
<rect x="956" y="637" width="1" height="77" fill="#c0c0c0"/>
<rect x="964" y="637" width="1" height="79" fill="#c0c0c0"/>
<rect x="972" y="637" width="1" height="80" fill="#c0c0c0"/>
<rect x="980" y="637" width="1" height="89" fill="#c0c0c0"/>
<rect x="988" y="637" width="1" height="84" fill="#c0c0c0"/>
<rect x="996" y="637" width="1" height="80" fill="#c0c0c0"/>
<rect x="1004" y="637" width="1" height="79" fill="#c0c0c0"/>
<rect x="1012" y="637" width="1" height="82" fill="#c0c0c0"/>
<rect x="1020" y="637" width="1" height="83" fill="#c0c0c0"/>
<rect x="1028" y="637" width="1" height="88" fill="#c0c0c0"/>
<rect x="1036" y="637" width="1" height="94" fill="#c0c0c0"/>
<rect x="1044" y="637" width="1" height="101" fill="#c0c0c0"/>
<rect x="1052" y="637" width="1" height="100" fill="#c0c0c0"/>
<rect x="1060" y="637" width="1" height="98" fill="#c0c0c0"/>
<rect x="1068" y="637" width="1" height="89" fill="#c0c0c0"/>
<rect x="1076" y="637" width="1" height="79" fill="#c0c0c0"/>
<rect x="1084" y="637" width="1" height="68" fill="#c0c0c0"/>
<rect x="1092" y="637" width="1" height="62" fill="#c0c0c0"/>
<rect x="1100" y="637" width="1" height="59" fill="#c0c0c0"/>
<rect x="1108" y="637" width="1" height="58" fill="#c0c0c0"/>
<rect x="1116" y="637" width="1" height="61" fill="#c0c0c0"/>
<rect x="1124" y="637" width="1" height="71" fill="#c0c0c0"/>
<rect x="1132" y="637" width="1" height="80" fill="#c0c0c0"/>
<rect x="1140" y="637" width="1" height="90" fill="#c0c0c0"/>
<rect x="1148" y="637" width="1" height="91" fill="#c0c0c0"/>
<rect x="1156" y="637" width="1" height="95" fill="#c0c0c0"/>
<rect x="1164" y="637" width="1" height="93" fill="#c0c0c0"/>
<rect x="1172" y="637" width="1" height="92" fill="#c0c0c0"/>
<rect x="1180" y="637" width="1" height="92" fill="#c0c0c0"/>
<rect x="1188" y="637" width="1" height="97" fill="#c0c0c0"/>
<rect x="1196" y="637" width="1" height="104" fill="#c0c0c0"/>
<rect x="1204" y="637" width="1" height="105" fill="#c0c0c0"/>
<rect x="1212" y="637" width="1" height="102" fill="#c0c0c0"/>
<rect x="1220" y="637" width="1" height="104" fill="#c0c0c0"/>
<rect x="1228" y="637" width="1" height="97" fill="#c0c0c0"/>
<rect x="1236" y="637" width="1" height="95" fill="#c0c0c0"/>
<rect x="1244" y="637" width="1" height="92" fill="#c0c0c0"/>
<rect x="1252" y="637" width="1" height="88" fill="#c0c0c0"/>
<rect x="1260" y="637" width="1" height="84" fill="#c0c0c0"/>
<rect x="1268" y="637" width="1" height="78" fill="#c0c0c0"/>
<rect x="1276" y="637" width="1" height="79" fill="#c0c0c0"/>
<rect x="1284" y="637" width="1" height="81" fill="#c0c0c0"/>
<rect x="1292" y="637" width="1" height="82" fill="#c0c0c0"/>
<rect x="1300" y="637" width="1" height="85" fill="#c0c0c0"/>
<rect x="1308" y="637" width="1" height="85" fill="#c0c0c0"/>
<rect x="1316" y="637" width="1" height="85" fill="#c0c0c0"/>
<rect x="1324" y="637" width="1" height="83" fill="#c0c0c0"/>
<rect x="1332" y="637" width="1" height="78" fill="#c0c0c0"/>
<rect x="1340" y="637" width="1" height="72" fill="#c0c0c0"/>
<rect x="1348" y="637" width="1" height="70" fill="#c0c0c0"/>
<rect x="1356" y="637" width="1" height="69" fill="#c0c0c0"/>
<rect x="1364" y="637" width="1" height="69" fill="#c0c0c0"/>
<rect x="1372" y="637" width="1" height="67" fill="#c0c0c0"/>
<rect x="1380" y="637" width="1" height="64" fill="#c0c0c0"/>
<rect x="1388" y="637" width="1" height="58" fill="#c0c0c0"/>
<rect x="1396" y="637" width="1" height="52" fill="#c0c0c0"/>
<rect x="1404" y="637" width="1" height="49" fill="#c0c0c0"/>
<rect x="1412" y="637" width="1" height="47" fill="#c0c0c0"/>
<rect x="1420" y="637" width="1" height="44" fill="#c0c0c0"/>
</g>
<g fill="#ff0000" shape-rendering="crispEdges"><rect x="2" y="608" width="3" height="1"/><rect x="8" y="610" width="3" height="1"/><rect x="14" y="611" width="3" height="1"/><rect x="20" y="611" width="3" height="1"/><rect x="26" y="611" width="3" height="1"/><rect x="32" y="611" width="3" height="1"/><rect x="38" y="612" width="3" height="1"/><rect x="44" y="612" width="3" height="1"/><rect x="50" y="612" width="3" height="1"/><rect x="56" y="612" width="3" height="1"/><rect x="62" y="612" width="1" height="1"/><rect x="63" y="611" width="2" height="1"/><rect x="68" y="610" width="3" height="1"/><rect x="74" y="609" width="3" height="1"/><rect x="80" y="609" width="3" height="1"/><rect x="86" y="609" width="3" height="1"/><rect x="92" y="609" width="2" height="1"/><rect x="94" y="608" width="1" height="1"/><rect x="98" y="608" width="3" height="1"/><rect x="104" y="608" width="3" height="1"/><rect x="110" y="608" width="3" height="1"/><rect x="116" y="608" width="3" height="1"/><rect x="122" y="607" width="3" height="1"/><rect x="128" y="607" width="3" height="1"/><rect x="134" y="607" width="3" height="1"/><rect x="140" y="608" width="3" height="1"/><rect x="146" y="608" width="1" height="1"/><rect x="147" y="609" width="2" height="1"/><rect x="152" y="609" width="2" height="1"/><rect x="154" y="610" width="1" height="1"/><rect x="158" y="610" width="3" height="1"/><rect x="164" y="611" width="3" height="1"/><rect x="170" y="611" width="1" height="1"/><rect x="171" y="612" width="2" height="1"/><rect x="176" y="611" width="3" height="1"/><rect x="182" y="611" width="1" height="1"/><rect x="183" y="610" width="2" height="1"/><rect x="188" y="610" width="2" height="1"/><rect x="190" y="609" width="1" height="1"/><rect x="194" y="609" width="3" height="1"/><rect x="200" y="608" width="1" height="1"/><rect x="201" y="607" width="2" height="1"/><rect x="206" y="606" width="3" height="1"/><rect x="212" y="605" width="1" height="1"/><rect x="213" y="604" width="2" height="1"/><rect x="218" y="603" width="3" height="1"/><rect x="224" y="602" width="3" height="1"/><rect x="230" y="601" width="3" height="1"/><rect x="236" y="600" width="3" height="1"/><rect x="242" y="600" width="2" height="1"/><rect x="244" y="601" width="1" height="1"/><rect x="248" y="601" width="3" height="1"/><rect x="254" y="603" width="3" height="1"/><rect x="260" y="604" width="1" height="1"/><rect x="261" y="605" width="2" height="1"/><rect x="266" y="608" width="2" height="1"/><rect x="268" y="609" width="1" height="1"/><rect x="272" y="613" width="2" height="1"/><rect x="274" y="614" width="1" height="1"/><rect x="278" y="618" width="1" height="1"/><rect x="279" y="619" width="1" height="1"/><rect x="280" y="620" width="1" height="1"/><rect x="284" y="623" width="1" height="1"/><rect x="285" y="624" width="1" height="1"/><rect x="286" y="625" width="1" height="1"/><rect x="290" y="629" width="1" height="1"/><rect x="291" y="630" width="1" height="1"/><rect x="292" y="631" width="1" height="1"/><rect x="296" y="634" width="1" height="1"/><rect x="297" y="635" width="2" height="1"/><rect x="302" y="639" width="2" height="1"/><rect x="304" y="640" width="1" height="1"/><rect x="308" y="643" width="1" height="1"/><rect x="309" y="644" width="1" height="1"/><rect x="310" y="645" width="1" height="1"/><rect x="314" y="648" width="1" height="1"/><rect x="315" y="649" width="2" height="1"/><rect x="320" y="652" width="1" height="1"/><rect x="321" y="653" width="2" height="1"/><rect x="326" y="656" width="2" height="1"/><rect x="328" y="657" width="1" height="1"/><rect x="332" y="659" width="3" height="1"/><rect x="338" y="660" width="1" height="1"/><rect x="339" y="661" width="2" height="1"/><rect x="344" y="662" width="3" height="1"/><rect x="350" y="663" width="3" height="1"/><rect x="356" y="664" width="3" height="1"/><rect x="362" y="665" width="3" height="1"/><rect x="368" y="665" width="3" height="1"/><rect x="374" y="665" width="3" height="1"/><rect x="380" y="665" width="3" height="1"/><rect x="386" y="664" width="3" height="1"/><rect x="392" y="664" width="3" height="1"/><rect x="398" y="663" width="3" height="1"/><rect x="404" y="663" width="1" height="1"/><rect x="405" y="662" width="2" height="1"/><rect x="410" y="662" width="3" height="1"/><rect x="416" y="661" width="3" height="1"/><rect x="422" y="661" width="3" height="1"/><rect x="428" y="661" width="1" height="1"/><rect x="429" y="662" width="2" height="1"/><rect x="434" y="662" width="3" height="1"/><rect x="440" y="662" width="1" height="1"/><rect x="441" y="663" width="2" height="1"/><rect x="446" y="664" width="1" height="1"/><rect x="447" y="665" width="2" height="1"/><rect x="452" y="667" width="1" height="1"/><rect x="453" y="668" width="2" height="1"/><rect x="458" y="670" width="1" height="1"/><rect x="459" y="671" width="2" height="1"/><rect x="464" y="673" width="2" height="1"/><rect x="466" y="674" width="1" height="1"/><rect x="470" y="676" width="2" height="1"/><rect x="472" y="677" width="1" height="1"/><rect x="476" y="679" width="2" height="1"/><rect x="478" y="680" width="1" height="1"/><rect x="482" y="682" width="1" height="1"/><rect x="483" y="683" width="1" height="1"/><rect x="484" y="684" width="1" height="1"/><rect x="488" y="686" width="1" height="1"/><rect x="489" y="687" width="1" height="1"/><rect x="490" y="688" width="1" height="1"/><rect x="494" y="690" width="3" height="1"/><rect x="500" y="691" width="1" height="1"/><rect x="501" y="692" width="2" height="1"/><rect x="506" y="694" width="1" height="1"/><rect x="507" y="695" width="2" height="1"/><rect x="512" y="697" width="3" height="1"/><rect x="518" y="698" width="3" height="1"/><rect x="524" y="698" width="3" height="1"/><rect x="530" y="698" width="3" height="1"/><rect x="536" y="697" width="3" height="1"/><rect x="542" y="696" width="3" height="1"/><rect x="548" y="695" width="3" height="1"/><rect x="554" y="694" width="2" height="1"/><rect x="556" y="693" width="1" height="1"/><rect x="560" y="692" width="2" height="1"/><rect x="562" y="691" width="1" height="1"/><rect x="566" y="690" width="2" height="1"/><rect x="568" y="689" width="1" height="1"/><rect x="572" y="688" width="2" height="1"/><rect x="574" y="687" width="1" height="1"/><rect x="578" y="686" width="1" height="1"/><rect x="579" y="685" width="2" height="1"/><rect x="584" y="684" width="3" height="1"/><rect x="590" y="682" width="3" height="1"/><rect x="596" y="681" width="3" height="1"/><rect x="602" y="680" width="3" height="1"/><rect x="608" y="680" width="2" height="1"/><rect x="610" y="681" width="1" height="1"/><rect x="614" y="681" width="3" height="1"/><rect x="620" y="681" width="1" height="1"/><rect x="621" y="682" width="2" height="1"/><rect x="626" y="682" width="3" height="1"/><rect x="632" y="683" width="3" height="1"/><rect x="638" y="684" width="2" height="1"/><rect x="640" y="685" width="1" height="1"/><rect x="644" y="686" width="3" height="1"/><rect x="650" y="687" width="3" height="1"/><rect x="656" y="688" width="1" height="1"/><rect x="657" y="689" width="2" height="1"/><rect x="662" y="690" width="3" height="1"/><rect x="668" y="691" width="3" height="1"/><rect x="674" y="692" width="1" height="1"/><rect x="675" y="693" width="2" height="1"/><rect x="680" y="693" width="1" height="1"/><rect x="681" y="694" width="2" height="1"/><rect x="686" y="694" width="3" height="1"/><rect x="692" y="695" width="3" height="1"/><rect x="698" y="696" width="1" height="1"/><rect x="699" y="697" width="2" height="1"/><rect x="704" y="697" width="2" height="1"/><rect x="706" y="698" width="1" height="1"/><rect x="710" y="698" width="3" height="1"/><rect x="716" y="699" width="3" height="1"/><rect x="722" y="700" width="3" height="1"/><rect x="728" y="700" width="1" height="1"/><rect x="729" y="701" width="2" height="1"/><rect x="734" y="702" width="3" height="1"/><rect x="740" y="703" width="1" height="1"/><rect x="741" y="704" width="2" height="1"/><rect x="746" y="705" width="2" height="1"/><rect x="748" y="706" width="1" height="1"/><rect x="752" y="707" width="1" height="1"/><rect x="753" y="708" width="2" height="1"/><rect x="758" y="709" width="1" height="1"/><rect x="759" y="710" width="2" height="1"/><rect x="764" y="712" width="2" height="1"/><rect x="766" y="713" width="1" height="1"/><rect x="770" y="714" width="1" height="1"/><rect x="771" y="715" width="2" height="1"/><rect x="776" y="717" width="1" height="1"/><rect x="777" y="718" width="2" height="1"/><rect x="782" y="720" width="3" height="1"/><rect x="788" y="722" width="3" height="1"/><rect x="794" y="723" width="1" height="1"/><rect x="795" y="724" width="2" height="1"/><rect x="800" y="725" width="3" height="1"/><rect x="806" y="725" width="3" height="1"/><rect x="812" y="725" width="1" height="1"/><rect x="813" y="726" width="2" height="1"/><rect x="818" y="726" width="3" height="1"/><rect x="824" y="726" width="3" height="1"/><rect x="830" y="725" width="3" height="1"/><rect x="836" y="725" width="3" height="1"/><rect x="842" y="725" width="3" height="1"/><rect x="848" y="725" width="2" height="1"/><rect x="850" y="726" width="1" height="1"/><rect x="854" y="726" width="2" height="1"/><rect x="856" y="727" width="1" height="1"/><rect x="860" y="727" width="2" height="1"/><rect x="862" y="728" width="1" height="1"/><rect x="866" y="729" width="3" height="1"/><rect x="872" y="730" width="1" height="1"/><rect x="873" y="731" width="2" height="1"/><rect x="878" y="731" width="3" height="1"/><rect x="884" y="730" width="3" height="1"/><rect x="890" y="730" width="3" height="1"/><rect x="896" y="729" width="1" height="1"/><rect x="897" y="728" width="2" height="1"/><rect x="902" y="727" width="1" height="1"/><rect x="903" y="726" width="2" height="1"/><rect x="908" y="724" width="2" height="1"/><rect x="910" y="723" width="1" height="1"/><rect x="914" y="721" width="1" height="1"/><rect x="915" y="720" width="2" height="1"/><rect x="920" y="718" width="1" height="1"/><rect x="921" y="717" width="1" height="1"/><rect x="922" y="716" width="1" height="1"/><rect x="926" y="714" width="1" height="1"/><rect x="927" y="713" width="1" height="1"/><rect x="928" y="712" width="1" height="1"/><rect x="932" y="709" width="3" height="1"/><rect x="938" y="707" width="2" height="1"/><rect x="940" y="706" width="1" height="1"/><rect x="944" y="705" width="2" height="1"/><rect x="946" y="704" width="1" height="1"/><rect x="950" y="704" width="2" height="1"/><rect x="952" y="703" width="1" height="1"/><rect x="956" y="703" width="3" height="1"/><rect x="962" y="703" width="3" height="1"/><rect x="968" y="703" width="1" height="1"/><rect x="969" y="704" width="2" height="1"/><rect x="974" y="705" width="2" height="1"/><rect x="976" y="706" width="1" height="1"/><rect x="980" y="707" width="1" height="1"/><rect x="981" y="708" width="2" height="1"/><rect x="986" y="710" width="2" height="1"/><rect x="988" y="711" width="1" height="1"/><rect x="992" y="712" width="2" height="1"/><rect x="994" y="713" width="1" height="1"/><rect x="998" y="714" width="3" height="1"/><rect x="1004" y="716" width="3" height="1"/><rect x="1010" y="717" width="3" height="1"/><rect x="1016" y="718" width="3" height="1"/><rect x="1022" y="718" width="1" height="1"/><rect x="1023" y="719" width="2" height="1"/><rect x="1028" y="719" width="1" height="1"/><rect x="1029" y="720" width="2" height="1"/><rect x="1034" y="720" width="2" height="1"/><rect x="1036" y="721" width="1" height="1"/><rect x="1040" y="722" width="3" height="1"/><rect x="1046" y="724" width="3" height="1"/><rect x="1052" y="726" width="3" height="1"/><rect x="1058" y="726" width="2" height="1"/><rect x="1060" y="727" width="1" height="1"/><rect x="1064" y="727" width="3" height="1"/><rect x="1070" y="727" width="3" height="1"/><rect x="1076" y="726" width="3" height="1"/><rect x="1082" y="726" width="2" height="1"/><rect x="1084" y="725" width="1" height="1"/><rect x="1088" y="724" width="2" height="1"/><rect x="1090" y="723" width="1" height="1"/><rect x="1094" y="722" width="1" height="1"/><rect x="1095" y="721" width="2" height="1"/><rect x="1100" y="719" width="1" height="1"/><rect x="1101" y="718" width="2" height="1"/><rect x="1106" y="716" width="1" height="1"/><rect x="1107" y="715" width="2" height="1"/><rect x="1112" y="713" width="2" height="1"/><rect x="1114" y="712" width="1" height="1"/><rect x="1118" y="710" width="3" height="1"/><rect x="1124" y="709" width="1" height="1"/><rect x="1125" y="708" width="2" height="1"/><rect x="1130" y="707" width="3" height="1"/><rect x="1136" y="707" width="2" height="1"/><rect x="1138" y="706" width="1" height="1"/><rect x="1142" y="707" width="3" height="1"/><rect x="1148" y="708" width="1" height="1"/><rect x="1149" y="709" width="2" height="1"/><rect x="1154" y="710" width="1" height="1"/><rect x="1155" y="711" width="2" height="1"/><rect x="1160" y="713" width="3" height="1"/><rect x="1166" y="715" width="2" height="1"/><rect x="1168" y="716" width="1" height="1"/><rect x="1172" y="718" width="2" height="1"/><rect x="1174" y="719" width="1" height="1"/><rect x="1178" y="720" width="1" height="1"/><rect x="1179" y="721" width="2" height="1"/><rect x="1184" y="723" width="1" height="1"/><rect x="1185" y="724" width="2" height="1"/><rect x="1190" y="726" width="2" height="1"/><rect x="1192" y="727" width="1" height="1"/><rect x="1196" y="729" width="2" height="1"/><rect x="1198" y="730" width="1" height="1"/><rect x="1202" y="731" width="1" height="1"/><rect x="1203" y="732" width="2" height="1"/><rect x="1208" y="733" width="3" height="1"/><rect x="1214" y="734" width="3" height="1"/><rect x="1220" y="735" width="3" height="1"/><rect x="1226" y="735" width="3" height="1"/><rect x="1232" y="736" width="3" height="1"/><rect x="1238" y="736" width="3" height="1"/><rect x="1244" y="736" width="2" height="1"/><rect x="1246" y="735" width="1" height="1"/><rect x="1250" y="735" width="3" height="1"/><rect x="1256" y="734" width="2" height="1"/><rect x="1258" y="733" width="1" height="1"/><rect x="1262" y="732" width="2" height="1"/><rect x="1264" y="731" width="1" height="1"/><rect x="1268" y="730" width="2" height="1"/><rect x="1270" y="729" width="1" height="1"/><rect x="1274" y="728" width="2" height="1"/><rect x="1276" y="727" width="1" height="1"/><rect x="1280" y="726" width="2" height="1"/><rect x="1282" y="725" width="1" height="1"/><rect x="1286" y="724" width="3" height="1"/><rect x="1292" y="722" width="3" height="1"/><rect x="1298" y="721" width="1" height="1"/><rect x="1299" y="720" width="2" height="1"/><rect x="1304" y="720" width="3" height="1"/><rect x="1310" y="720" width="3" height="1"/><rect x="1316" y="719" width="3" height="1"/><rect x="1322" y="719" width="2" height="1"/><rect x="1324" y="718" width="1" height="1"/><rect x="1328" y="718" width="3" height="1"/><rect x="1334" y="717" width="3" height="1"/><rect x="1340" y="717" width="3" height="1"/><rect x="1346" y="716" width="3" height="1"/><rect x="1352" y="715" width="3" height="1"/><rect x="1358" y="714" width="3" height="1"/><rect x="1364" y="713" width="3" height="1"/><rect x="1370" y="712" width="2" height="1"/><rect x="1372" y="711" width="1" height="1"/><rect x="1376" y="710" width="3" height="1"/><rect x="1382" y="708" width="3" height="1"/><rect x="1388" y="706" width="2" height="1"/><rect x="1390" y="705" width="1" height="1"/><rect x="1394" y="704" width="1" height="1"/><rect x="1395" y="703" width="2" height="1"/><rect x="1400" y="701" width="2" height="1"/><rect x="1402" y="700" width="1" height="1"/><rect x="1406" y="699" width="3" height="1"/><rect x="1412" y="698" width="1" height="1"/><rect x="1413" y="697" width="2" height="1"/><rect x="1418" y="695" width="2" height="1"/><rect x="1420" y="694" width="1" height="1"/></g>
<line x1="1243.9" y1="733.5" x2="1429.1" y2="678.3" stroke="#ff0000" stroke-width="3.4" stroke-linecap="butt"/><polygon points="1436.0,676.2 1425.9,684.4 1423.1,674.8" fill="#ff0000"/>
<g shape-rendering="crispEdges">
<line x1="3" y1="789.5" x2="1686" y2="789.5" stroke="#c0c0c0" stroke-width="1" stroke-dasharray="3,3"/>
<line x1="3" y1="840.5" x2="1686" y2="840.5" stroke="#c0c0c0" stroke-width="1" stroke-dasharray="3,3"/>
<line x1="3" y1="901.5" x2="1686" y2="901.5" stroke="#c0c0c0" stroke-width="1" stroke-dasharray="3,3"/>
</g>
<polyline fill="none" points="-3.5,827.5 4.5,828.4 12.5,832.1 20.5,831.1 28.5,832.7 36.5,835.9 44.5,842.1 52.5,833.8 60.5,817.2 68.5,821.3 76.5,826.3 84.5,823.2 92.5,840.4 100.5,837.9 108.5,834.6 116.5,833.6 124.5,832.1 132.5,833.6 140.5,824.4 148.5,832.5 156.5,831.5 164.5,837.3 172.5,827.6 180.5,821.7 188.5,820.1 196.5,821.7 204.5,809.3 212.5,815.5 220.5,825.5 228.5,837.3 236.5,847.3 244.5,843.1 252.5,846.7 260.5,858.7 268.5,863.3 276.5,854.4 284.5,860.6 292.5,851.4 300.5,850.2 308.5,856.4 316.5,849.2 324.5,850.4 332.5,849.2 340.5,850.8 348.5,859.1 356.5,857.5 364.5,845.6 372.5,845.6 380.5,842.5 388.5,848.3 396.5,851.4 404.5,852.5 412.5,850.4 420.5,850.4 428.5,874.3 436.5,868.5 444.5,877.2 452.5,877.2 460.5,866.4 468.5,869.5 476.5,869.5 484.5,875.3 492.5,867.0 500.5,868.9 508.5,871.0 516.5,876.2 524.5,848.3 532.5,850.4 540.5,846.3 548.5,855.4 556.5,848.3 564.5,852.3 572.5,853.5 580.5,857.7 588.5,860.6 596.5,863.9 604.5,875.3 612.5,872.2 620.5,855.4 628.5,858.7 636.5,864.9 644.5,869.1 652.5,861.2 660.5,862.9 668.5,866.4 676.5,875.3 684.5,865.8 692.5,871.2 700.5,859.5 708.5,864.3 716.5,865.8 724.5,874.3 732.5,869.5 740.5,875.3 748.5,879.5 756.5,883.4 764.5,882.4 772.5,872.2 780.5,875.3 788.5,876.4 796.5,861.2 804.5,868.5 812.5,865.4 820.5,866.4 828.5,874.3 836.5,881.4 844.5,887.2 852.5,887.2 860.5,871.2 868.5,865.4 876.5,867.4 884.5,848.1 892.5,850.4 900.5,844.6 908.5,850.4 916.5,849.2 924.5,860.6 932.5,870.6 940.5,868.5 948.5,876.4 956.5,863.3 964.5,867.4 972.5,865.4 980.5,877.2 988.5,854.4 996.5,855.6 1004.5,861.2 1012.5,861.2 1020.5,865.8 1028.5,869.5 1036.5,874.3 1044.5,876.4 1052.5,866.4 1060.5,866.6 1068.5,853.9 1076.5,845.4 1084.5,844.2 1092.5,850.0 1100.5,853.5 1108.5,856.2 1116.5,863.9 1124.5,872.6 1132.5,875.9 1140.5,880.5 1148.5,866.6 1156.5,870.3 1164.5,863.4 1172.5,864.3 1180.5,867.8 1188.5,875.4 1196.5,879.3 1204.5,869.6 1212.5,864.6 1220.5,870.3 1228.5,861.6 1236.5,861.6 1244.5,863.4 1252.5,862.2 1260.5,860.4 1268.5,857.4 1276.5,867.3 1284.5,868.5 1292.5,870.1 1300.5,877.3 1308.5,871.5 1316.5,872.6 1324.5,867.3 1332.5,863.4 1340.5,859.7 1348.5,862.2 1356.5,866.6 1364.5,870.3 1372.5,866.6 1380.5,862.2 1388.5,855.8 1396.5,851.6 1404.5,854.2 1412.5,862.2 1420.5,852.3" stroke="#1e90ff" stroke-width="1" shape-rendering="crispEdges"/>
<g shape-rendering="crispEdges" fill="#000">
<rect x="1687" y="48" width="2" height="1"/>
<rect x="1687" y="81" width="2" height="1"/>
<rect x="1687" y="114" width="2" height="1"/>
<rect x="1687" y="147" width="2" height="1"/>
<rect x="1687" y="180" width="2" height="1"/>
<rect x="1687" y="213" width="2" height="1"/>
<rect x="1687" y="246" width="2" height="1"/>
<rect x="1687" y="279" width="2" height="1"/>
<rect x="1687" y="312" width="2" height="1"/>
<rect x="1687" y="345" width="2" height="1"/>
<rect x="1687" y="378" width="2" height="1"/>
<rect x="1687" y="411" width="2" height="1"/>
<rect x="1687" y="444" width="2" height="1"/>
<rect x="1687" y="477" width="2" height="1"/>
<rect x="1687" y="496" width="2" height="1"/>
<rect x="1687" y="513" width="2" height="1"/>
<rect x="1687" y="541" width="2" height="1"/>
<rect x="1687" y="578" width="2" height="1"/>
<rect x="1687" y="583" width="2" height="1"/>
<rect x="1687" y="637" width="2" height="1"/>
<rect x="1687" y="750" width="2" height="1"/>
<rect x="1687" y="755" width="2" height="1"/>
<rect x="1687" y="927" width="2" height="1"/>
</g>
<text x="1691.7" y="51.1" font-family="Liberation Sans, sans-serif" font-size="9.2" fill="#000" text-anchor="start" >7.20220</text>
<text x="1691.7" y="84.1" font-family="Liberation Sans, sans-serif" font-size="9.2" fill="#000" text-anchor="start" >7.15765</text>
<text x="1691.7" y="117.1" font-family="Liberation Sans, sans-serif" font-size="9.2" fill="#000" text-anchor="start" >7.11310</text>
<text x="1691.7" y="150.1" font-family="Liberation Sans, sans-serif" font-size="9.2" fill="#000" text-anchor="start" >7.06720</text>
<text x="1691.7" y="183.1" font-family="Liberation Sans, sans-serif" font-size="9.2" fill="#000" text-anchor="start" >7.02265</text>
<text x="1691.7" y="216.1" font-family="Liberation Sans, sans-serif" font-size="9.2" fill="#000" text-anchor="start" >6.97675</text>
<text x="1691.7" y="249.1" font-family="Liberation Sans, sans-serif" font-size="9.2" fill="#000" text-anchor="start" >6.93220</text>
<text x="1691.7" y="282.1" font-family="Liberation Sans, sans-serif" font-size="9.2" fill="#000" text-anchor="start" >6.88765</text>
<text x="1691.7" y="315.1" font-family="Liberation Sans, sans-serif" font-size="9.2" fill="#000" text-anchor="start" >6.84175</text>
<text x="1691.7" y="348.1" font-family="Liberation Sans, sans-serif" font-size="9.2" fill="#000" text-anchor="start" >6.79720</text>
<text x="1691.7" y="381.1" font-family="Liberation Sans, sans-serif" font-size="9.2" fill="#000" text-anchor="start" >6.75265</text>
<text x="1691.7" y="414.1" font-family="Liberation Sans, sans-serif" font-size="9.2" fill="#000" text-anchor="start" >6.70675</text>
<text x="1691.7" y="447.1" font-family="Liberation Sans, sans-serif" font-size="9.2" fill="#000" text-anchor="start" >6.66220</text>
<text x="1691.7" y="480.1" font-family="Liberation Sans, sans-serif" font-size="9.2" fill="#000" text-anchor="start" >6.61765</text>
<rect x="1688" y="490" width="41" height="11" fill="#ff0000" shape-rendering="crispEdges"/>
<text x="1691.7" y="498.7" font-family="Liberation Sans, sans-serif" font-size="9.2" fill="#fff" text-anchor="start" >6.59166</text>
<rect x="1688" y="507" width="41" height="11" fill="#ff0000" shape-rendering="crispEdges"/>
<text x="1691.7" y="515.7" font-family="Liberation Sans, sans-serif" font-size="9.2" fill="#fff" text-anchor="start" >6.56850</text>
<rect x="1688" y="523" width="41" height="11" fill="#ffa500" shape-rendering="crispEdges"/>
<text x="1691.7" y="531.7" font-family="Liberation Sans, sans-serif" font-size="9.2" fill="#fff" text-anchor="start" >6.54671</text>
<rect x="1688" y="536" width="41" height="11" fill="#000000" shape-rendering="crispEdges"/>
<text x="1691.7" y="544.7" font-family="Liberation Sans, sans-serif" font-size="9.2" fill="#fff" text-anchor="start" >6.52995</text>
<rect x="1688" y="555" width="41" height="11" fill="#0000ff" shape-rendering="crispEdges"/>
<text x="1691.7" y="563.7" font-family="Liberation Sans, sans-serif" font-size="9.2" fill="#fff" text-anchor="start" >6.50312</text>
<rect x="1688" y="572" width="41" height="11" fill="#0000ff" shape-rendering="crispEdges"/>
<text x="1691.7" y="580.7" font-family="Liberation Sans, sans-serif" font-size="9.2" fill="#fff" text-anchor="start" >6.47860</text>
<text x="1690" y="592" font-family="Liberation Sans, sans-serif" font-size="9.2" fill="#000" text-anchor="start" >0.022362</text>
<text x="1690" y="640.5" font-family="Liberation Sans, sans-serif" font-size="9.2" fill="#000" text-anchor="start" >0.00</text>
<text x="1689.5" y="748" font-family="Liberation Sans, sans-serif" font-size="9.2" fill="#000" text-anchor="start" >-0.046165</text>
<text x="1690" y="764" font-family="Liberation Sans, sans-serif" font-size="9.2" fill="#000" text-anchor="start" >100</text>
<text x="1690" y="793" font-family="Liberation Sans, sans-serif" font-size="9.2" fill="#000" text-anchor="start" >80</text>
<text x="1690" y="844" font-family="Liberation Sans, sans-serif" font-size="9.2" fill="#000" text-anchor="start" >50</text>
<text x="1690" y="905" font-family="Liberation Sans, sans-serif" font-size="9.2" fill="#000" text-anchor="start" >15</text>
<text x="1690" y="924" font-family="Liberation Sans, sans-serif" font-size="9.2" fill="#000" text-anchor="start" >0</text>
<text x="11.8" y="37.8" font-family="Liberation Sans, sans-serif" font-size="9.8" fill="#000" text-anchor="start" textLength="215" lengthAdjust="spacingAndGlyphs">USDCNH-,Daily&#160; 6.51680 6.53539 6.51327 6.52995</text>
<polygon points="0,37.5 3,33 6.5,37.5" fill="#000"/>
<text x="1" y="594" font-family="Liberation Sans, sans-serif" font-size="9.3" fill="#000" text-anchor="start" >MACD(12,26,9) -0.017649 -0.023375</text>
<text x="1" y="766" font-family="Liberation Sans, sans-serif" font-size="9.1" fill="#000" text-anchor="start" >RSI(14) 44.0829</text>
<g shape-rendering="crispEdges" fill="#000">
<rect x="60" y="928" width="1" height="3"/>
<rect x="124" y="928" width="1" height="3"/>
<rect x="188" y="928" width="1" height="3"/>
<rect x="252" y="928" width="1" height="3"/>
<rect x="316" y="928" width="1" height="3"/>
<rect x="380" y="928" width="1" height="3"/>
<rect x="444" y="928" width="1" height="3"/>
<rect x="508" y="928" width="1" height="3"/>
<rect x="572" y="928" width="1" height="3"/>
<rect x="636" y="928" width="1" height="3"/>
<rect x="700" y="928" width="1" height="3"/>
<rect x="764" y="928" width="1" height="3"/>
<rect x="828" y="928" width="1" height="3"/>
<rect x="892" y="928" width="1" height="3"/>
<rect x="956" y="928" width="1" height="3"/>
<rect x="1020" y="928" width="1" height="3"/>
<rect x="1084" y="928" width="1" height="3"/>
<rect x="1148" y="928" width="1" height="3"/>
<rect x="1212" y="928" width="1" height="3"/>
<rect x="1276" y="928" width="1" height="3"/>
<rect x="1340" y="928" width="1" height="3"/>
<rect x="1404" y="928" width="1" height="3"/>
</g>
<text x="1" y="940" font-family="Liberation Sans, sans-serif" font-size="9.3" fill="#000" text-anchor="start" >1 Apr 2020</text>
<text x="59.5" y="940" font-family="Liberation Sans, sans-serif" font-size="9.3" fill="#000" text-anchor="start" >1 May 2020</text>
<text x="123.5" y="940" font-family="Liberation Sans, sans-serif" font-size="9.3" fill="#000" text-anchor="start" >13 May 2020</text>
<text x="187.5" y="940" font-family="Liberation Sans, sans-serif" font-size="9.3" fill="#000" text-anchor="start" >25 May 2020</text>
<text x="251.5" y="940" font-family="Liberation Sans, sans-serif" font-size="9.3" fill="#000" text-anchor="start" >4 Jun 2020</text>
<text x="315.5" y="940" font-family="Liberation Sans, sans-serif" font-size="9.3" fill="#000" text-anchor="start" >16 Jun 2020</text>
<text x="379.5" y="940" font-family="Liberation Sans, sans-serif" font-size="9.3" fill="#000" text-anchor="start" >26 Jun 2020</text>
<text x="443.5" y="940" font-family="Liberation Sans, sans-serif" font-size="9.3" fill="#000" text-anchor="start" >8 Jul 2020</text>
<text x="507.5" y="940" font-family="Liberation Sans, sans-serif" font-size="9.3" fill="#000" text-anchor="start" >20 Jul 2020</text>
<text x="571.5" y="940" font-family="Liberation Sans, sans-serif" font-size="9.3" fill="#000" text-anchor="start" >30 Jul 2020</text>
<text x="635.5" y="940" font-family="Liberation Sans, sans-serif" font-size="9.3" fill="#000" text-anchor="start" >11 Aug 2020</text>
<text x="699.5" y="940" font-family="Liberation Sans, sans-serif" font-size="9.3" fill="#000" text-anchor="start" >21 Aug 2020</text>
<text x="763.5" y="940" font-family="Liberation Sans, sans-serif" font-size="9.3" fill="#000" text-anchor="start" >2 Sep 2020</text>
<text x="827.5" y="940" font-family="Liberation Sans, sans-serif" font-size="9.3" fill="#000" text-anchor="start" >14 Sep 2020</text>
<text x="891.5" y="940" font-family="Liberation Sans, sans-serif" font-size="9.3" fill="#000" text-anchor="start" >24 Sep 2020</text>
<text x="955.5" y="940" font-family="Liberation Sans, sans-serif" font-size="9.3" fill="#000" text-anchor="start" >6 Oct 2020</text>
<text x="1019.5" y="940" font-family="Liberation Sans, sans-serif" font-size="9.3" fill="#000" text-anchor="start" >16 Oct 2020</text>
<text x="1083.5" y="940" font-family="Liberation Sans, sans-serif" font-size="9.3" fill="#000" text-anchor="start" >28 Oct 2020</text>
<text x="1147.5" y="940" font-family="Liberation Sans, sans-serif" font-size="9.3" fill="#000" text-anchor="start" >9 Nov 2020</text>
<text x="1211.5" y="940" font-family="Liberation Sans, sans-serif" font-size="9.3" fill="#000" text-anchor="start" >19 Nov 2020</text>
<text x="1275.5" y="940" font-family="Liberation Sans, sans-serif" font-size="9.3" fill="#000" text-anchor="start" >1 Dec 2020</text>
<text x="1339.5" y="940" font-family="Liberation Sans, sans-serif" font-size="9.3" fill="#000" text-anchor="start" >11 Dec 2020</text>
<text x="1403.5" y="940" font-family="Liberation Sans, sans-serif" font-size="9.3" fill="#000" text-anchor="start" >23 Dec 2020</text>
<polygon points="1427,27 1437,27 1432,32" fill="#c0c0c0"/>
<defs>
<linearGradient id="redg" gradientUnits="userSpaceOnUse" x1="0" y1="46" x2="0" y2="110">
<stop offset="0" stop-color="#f84e4e"/><stop offset="0.35" stop-color="#e03030"/><stop offset="0.7" stop-color="#c61616"/><stop offset="1" stop-color="#ac0000"/></linearGradient>
<linearGradient id="btng" x1="0" y1="0" x2="0" y2="1"><stop offset="0" stop-color="#ececec"/><stop offset="0.45" stop-color="#dedede"/><stop offset="0.5" stop-color="#d2d2d2"/><stop offset="1" stop-color="#c6c6c6"/></linearGradient>
</defs>
<rect x="0" y="45" width="220" height="67" fill="#ffffff"/>
<polygon points="0,46 51,46 51,70 108,70 108,110 0,110" fill="url(#redg)"/>
<polygon points="110,70 166,70 166,46 218,46 218,110 110,110" fill="url(#redg)"/>
<g fill="none" stroke="#b40808" stroke-width="1" shape-rendering="crispEdges"><path d="M0 46.5 H50.5 V70.5 H107.5 V110"/><path d="M110.5 110 V70.5 H166.5 V46.5 H217.5 V110"/></g>
<g shape-rendering="crispEdges"><rect x="3" y="69" width="44" height="1" fill="#a80808"/><rect x="3" y="70" width="44" height="1" fill="#f28a8a"/><rect x="170" y="69" width="44" height="1" fill="#a80808"/><rect x="170" y="70" width="44" height="1" fill="#f28a8a"/></g>
<rect x="53.5" y="46.5" width="110" height="21" fill="#ffffff" stroke="#a6a6ae" stroke-width="1" shape-rendering="crispEdges"/>
<rect x="55" y="48" width="19" height="18.5" fill="url(#btng)"/>
<rect x="143.5" y="48" width="19" height="18.5" fill="url(#btng)"/>
<g shape-rendering="crispEdges" fill="#a6a6ae"><rect x="74" y="47" width="1" height="20"/><rect x="142" y="47" width="1" height="20"/></g>
<polygon points="61.3,54.6 66.7,54.6 64,57.8" fill="#4866c4"/>
<polygon points="149.8,57.8 155.2,57.8 152.5,54.6" fill="#4866c4"/>
<text x="138.8" y="60.6" font-family="Liberation Sans, sans-serif" font-size="11.8" fill="#08081c" text-anchor="end" textLength="23.2" lengthAdjust="spacingAndGlyphs">1.00</text>
<text x="24" y="61.6" font-family="Liberation Sans, sans-serif" font-size="12" fill="#ffffff" text-anchor="middle" textLength="25.5" lengthAdjust="spacingAndGlyphs">SELL</text>
<text x="191.1" y="61.6" font-family="Liberation Sans, sans-serif" font-size="12" fill="#ffffff" text-anchor="middle" textLength="23.5" lengthAdjust="spacingAndGlyphs">BUY</text>
<text x="19.5" y="100.4" font-family="Liberation Sans, sans-serif" font-size="11" font-weight="bold" fill="#ffffff" textLength="23" lengthAdjust="spacingAndGlyphs">6.52</text>
<text x="46.3" y="100.6" font-family="Liberation Sans, sans-serif" font-size="33" fill="#ffffff" stroke="url(#redg)" stroke-width="0.35" textLength="36" lengthAdjust="spacingAndGlyphs">99</text>
<text x="86" y="85.6" font-family="Liberation Sans, sans-serif" font-size="12" font-weight="bold" fill="#ffffff">5</text>
<text x="129.4" y="100.4" font-family="Liberation Sans, sans-serif" font-size="11" font-weight="bold" fill="#ffffff" textLength="23" lengthAdjust="spacingAndGlyphs">6.53</text>
<text x="157.4" y="100.6" font-family="Liberation Sans, sans-serif" font-size="33" fill="#ffffff" stroke="url(#redg)" stroke-width="0.35" textLength="36" lengthAdjust="spacingAndGlyphs">31</text>
<text x="196.8" y="85.6" font-family="Liberation Sans, sans-serif" font-size="12" font-weight="bold" fill="#ffffff">0</text>
<defs>
<linearGradient id="gold" x1="0" y1="0" x2="1" y2="1"><stop offset="0" stop-color="#f6d870"/><stop offset="0.6" stop-color="#d9a520"/><stop offset="1" stop-color="#a87810"/></linearGradient>
<linearGradient id="gplus" x1="0" y1="0" x2="0" y2="1"><stop offset="0" stop-color="#40e040"/><stop offset="1" stop-color="#10a010"/></linearGradient>
<radialGradient id="lens" cx="0.4" cy="0.35" r="0.7"><stop offset="0" stop-color="#f4fbff"/><stop offset="1" stop-color="#b8daf4"/></radialGradient>
<linearGradient id="badge" x1="0" y1="0" x2="0" y2="1"><stop offset="0" stop-color="#ea6040"/><stop offset="1" stop-color="#d41a0c"/></linearGradient>
<linearGradient id="clk" x1="0" y1="0" x2="0" y2="1"><stop offset="0" stop-color="#4aa0f0"/><stop offset="1" stop-color="#0a50c0"/></linearGradient>
<pattern id="dots" width="2" height="2" patternUnits="userSpaceOnUse"><rect width="2" height="2" fill="#fcfcfc"/><rect width="1" height="1" fill="#ececec"/><rect x="1" y="1" width="1" height="1" fill="#ececec"/></pattern>
</defs>
<rect x="-3" y="3.5" width="12.5" height="13" fill="#ffffff" stroke="#3a7ed0" stroke-width="1.4" rx="1"/>
<g stroke="#c4d6f6" stroke-width="0.7"><path d="M0 6.5H8M0 8.5H8M0 10.5H8M0 12.5H8M0 14.5H8"/></g>
<rect x="22.5" y="2.8" width="12" height="13" fill="#fbfbfb" stroke="#b0a898" stroke-width="1"/>
<path d="M25.5 6V11M28.5 5V12M31.5 6V10" stroke="#8090a0" stroke-width="0.9"/>
<line x1="33.5" y1="14" x2="38.5" y2="18.3" stroke="#c89a20" stroke-width="2.6" stroke-linecap="round"/>
<circle cx="29.8" cy="10.4" r="4.6" fill="url(#lens)" fill-opacity="0.85" stroke="#78a8e0" stroke-width="1.2"/>
<rect x="47" y="0" width="1" height="20" fill="#9a9a9a" shape-rendering="crispEdges"/>
<path d="M57.5 3 H65.5 L69 6.5 V15.5 H57.5 Z" fill="#fcfcfc" stroke="#909090" stroke-width="1"/>
<path d="M65.5 3 V6.5 H69" fill="none" stroke="#909090" stroke-width="0.8"/>
<path d="M59.5 6H63M59.5 9H66M59.5 11.5H66" stroke="#707070" stroke-width="1"/>
<path d="M65.3 8.3 H68.9 V12.1 H72.7 V15.7 H68.9 V19.5 H65.3 V15.7 H61.5 V12.1 H65.3 Z" fill="url(#gplus)" stroke="#0a8a0a" stroke-width="0.7"/>
<text x="76.3" y="13.3" font-family="Liberation Sans, Noto Sans CJK SC, sans-serif" font-size="12" fill="#000" text-anchor="start" textLength="35.5" lengthAdjust="spacingAndGlyphs">新订单</text>
<path d="M124.2 12 L133 15.6 L139.4 9.4 L139.9 11.6 L133.2 18 L124 13.8 Z" fill="#a87214" stroke="#8a5c0c" stroke-width="0.5"/>
<path d="M124.6 13.3 L133.1 16.9 L139.6 10.6" fill="none" stroke="#f0d890" stroke-width="0.7"/>
<path d="M129.6 3 C128.3 3.2 128.6 5.2 129 6 L124.2 12 L133 15.6 L139.4 9.4 Z" fill="url(#gold)" stroke="#b8861c" stroke-width="0.7"/>
<path d="M126.3 10.3 L134.3 13.5" stroke="#fff4b8" stroke-width="1" stroke-opacity="0.8"/>
<path d="M154.4 4 L157.3 2.2 H164.6 L165.6 3.2 V11 H154.4 Z" fill="#1e8cf4" stroke="#1668cc" stroke-width="0.7"/>
<path d="M157.6 3.6 H165.2 V10.8 H157.6 Z" fill="#58acfa"/>
<path d="M154.4 4 L157.5 3.4 V11 H154.4Z" fill="#0c78ec"/>
<rect x="159.2" y="5.6" width="4.4" height="1.3" fill="#ffffff"/>
<defs><linearGradient id="cloud" x1="0" y1="0" x2="0" y2="1"><stop offset="0" stop-color="#ffffff"/><stop offset="0.6" stop-color="#f0f4fa"/><stop offset="1" stop-color="#c4d0e6"/></linearGradient></defs>
<path d="M154.6 17.6 C151.4 17.6 151.2 13.6 154.2 13.2 C154.4 10.6 158.2 10 159.4 12 C160.8 9.8 164.6 10.6 164.6 13 C168.4 12.6 168.8 17.6 165.4 17.6 Z" fill="url(#cloud)" stroke="#4c6cb0" stroke-width="1"/>
<g fill="none" stroke-width="1.1"><path d="M188 2.2 A7.6 7.6 0 0 0 188 17.4" stroke="#9cb8e8"/><path d="M188 4.6 A5.2 5.2 0 0 0 188 15" stroke="#6c94e0"/><path d="M188 7 A2.8 2.8 0 0 0 188 12.6" stroke="#3c68d4"/><path d="M188 2.2 A7.6 7.6 0 0 1 195.6 9.8" stroke="#b4c8b4"/><path d="M188 4.6 A5.2 5.2 0 0 1 193.2 9.8" stroke="#a0bca0"/><path d="M188 7 A2.8 2.8 0 0 1 190.8 9.8" stroke="#8cb08c"/></g>
<defs><linearGradient id="sigg" x1="0" y1="0" x2="1" y2="0"><stop offset="0" stop-color="#38a838"/><stop offset="1" stop-color="#a8d0a8"/></linearGradient></defs>
<path d="M188 9.8 L195.6 9.8 A7.6 7.6 0 0 1 188 17.4 Z" fill="url(#sigg)" fill-opacity="0.8"/>
<circle cx="188" cy="9.6" r="1.5" fill="#2050c8"/>
<line x1="188.2" y1="10" x2="188.2" y2="17.4" stroke="#18a018" stroke-width="1.3"/>
<path d="M208 9.2 L214.8 17.3 L216.6 17.6 L222.4 9 Z" fill="#f6d040" stroke="#c89c18" stroke-width="0.7"/>
<path d="M209.5 9.6 L215 16.4" stroke="#fff2a0" stroke-width="1"/>
<ellipse cx="215.1" cy="7.2" rx="7.8" ry="2.6" fill="#4ea0dc" stroke="#2a78b8" stroke-width="0.7"/>
<path d="M211.2 6.8 C211.2 1.4 219.2 1.4 219.2 6.8 C217 8 213.4 8 211.2 6.8 Z" fill="#7cc0ee" stroke="#2a78b8" stroke-width="0.7"/>
<circle cx="219.5" cy="13.7" r="4" fill="#dc2414"/>
<rect x="218.1" y="12.3" width="2.8" height="2.8" fill="#ffffff"/>
<text x="229.5" y="13.3" font-family="Liberation Sans, Noto Sans CJK SC, sans-serif" font-size="12" fill="#000" text-anchor="start" textLength="45.5" lengthAdjust="spacingAndGlyphs">自动交易</text>
<rect x="283" y="0" width="1" height="21" fill="#b0b0b0" shape-rendering="crispEdges"/>
<g shape-rendering="crispEdges" fill="#a8a8a8"><rect x="287" y="1" width="3" height="1"/><rect x="287" y="3" width="3" height="1"/><rect x="287" y="5" width="3" height="1"/><rect x="287" y="7" width="3" height="1"/><rect x="287" y="9" width="3" height="1"/><rect x="287" y="11" width="3" height="1"/><rect x="287" y="13" width="3" height="1"/><rect x="287" y="15" width="3" height="1"/><rect x="287" y="17" width="3" height="1"/></g>
<g stroke="#4a4a4a" stroke-width="1" fill="none"><path d="M301.4 4.5 V18 M298.9 15.3 H312.9"/><path d="M299.9 6.3 L301.4 4.2 L302.9 6.3 M311.2 13.8 L313.2 15.3 L311.2 16.8"/></g>
<path d="M305.5 12.5 H307.6 V6.3 H310" fill="none" stroke="#18a038" stroke-width="1.5"/>
<rect x="321" y="0" width="1" height="20" fill="#9a9a9a" shape-rendering="crispEdges"/>
<rect x="322" y="0" width="25" height="20" fill="url(#dots)"/>
<g stroke="#4a4a4a" stroke-width="1" fill="none"><path d="M329.3 4.5 V18 M326.8 15.3 H340.8"/><path d="M327.8 6.3 L329.3 4.2 L330.8 6.3 M339.1 13.8 L341.1 15.3 L339.1 16.8"/></g>
<path d="M335.4 2.2V14" stroke="#108828" stroke-width="1"/><rect x="333.3" y="4.2" width="4.2" height="7.6" fill="#38d050" stroke="#108828" stroke-width="0.8"/>
<g stroke="#4a4a4a" stroke-width="1" fill="none"><path d="M357.6 4.5 V18 M355.1 15.3 H369.1"/><path d="M356.1 6.3 L357.6 4.2 L359.1 6.3 M367.40000000000003 13.8 L369.40000000000003 15.3 L367.40000000000003 16.8"/></g>
<path d="M356 12.5 C359 9.5 361 7 363 7.3 C365 7.6 366.5 9.8 368.5 11.3" fill="none" stroke="#289848" stroke-width="1.2"/>
<rect x="378" y="0" width="1" height="20" fill="#9a9a9a" shape-rendering="crispEdges"/>
<line x1="397.1" y1="12.2" x2="402.1" y2="17.2" stroke="#c8a028" stroke-width="2.6" stroke-linecap="round"/>
<circle cx="393.1" cy="8.1" r="5.3" fill="url(#lens)" stroke="#3a80d8" stroke-width="1.3"/>
<path d="M390.1 8.1 H396.1" stroke="#2a6ac8" stroke-width="1.7"/>
<path d="M393.1 5.1 V11.1" stroke="#2a6ac8" stroke-width="1.7"/>
<line x1="425" y1="12.2" x2="430" y2="17.2" stroke="#c8a028" stroke-width="2.6" stroke-linecap="round"/>
<circle cx="421" cy="8.1" r="5.3" fill="url(#lens)" stroke="#3a80d8" stroke-width="1.3"/>
<path d="M418 8.1 H424" stroke="#2a6ac8" stroke-width="1.7"/>
<rect x="443" y="2" width="7.8" height="7.8" fill="#58b838" stroke="#3a9a20" stroke-width="0.6"/>
<rect x="443" y="2" width="7.8" height="2" fill="#3a9a20"/>
<rect x="444.4" y="5.2" width="5" height="1.2" fill="#fff"/><rect x="444.4" y="7.4" width="5" height="1.2" fill="#fff"/>
<rect x="451.3" y="2" width="7.8" height="7.8" fill="#3070e0" stroke="#1848c0" stroke-width="0.6"/>
<rect x="451.3" y="2" width="7.8" height="2" fill="#1848c0"/>
<rect x="452.7" y="5.2" width="5" height="1.2" fill="#fff"/><rect x="452.7" y="7.4" width="5" height="1.2" fill="#fff"/>
<rect x="443" y="10.2" width="7.8" height="7.8" fill="#3070e0" stroke="#1848c0" stroke-width="0.6"/>
<rect x="443" y="10.2" width="7.8" height="2" fill="#1848c0"/>
<rect x="444.4" y="13.399999999999999" width="5" height="1.2" fill="#fff"/><rect x="444.4" y="15.6" width="5" height="1.2" fill="#fff"/>
<rect x="451.3" y="10.2" width="7.8" height="7.8" fill="#58b838" stroke="#3a9a20" stroke-width="0.6"/>
<rect x="451.3" y="10.2" width="7.8" height="2" fill="#3a9a20"/>
<rect x="452.7" y="13.399999999999999" width="5" height="1.2" fill="#fff"/><rect x="452.7" y="15.6" width="5" height="1.2" fill="#fff"/>
<rect x="468" y="0" width="1" height="20" fill="#9a9a9a" shape-rendering="crispEdges"/>
<rect x="472" y="0" width="1" height="20" fill="#c8c8c8" shape-rendering="crispEdges"/>
<rect x="473" y="0" width="26" height="20" fill="url(#dots)"/>
<g stroke="#4a4a4a" stroke-width="1" fill="none"><path d="M481.5 4.5 V18 M479.0 15.3 H493.0"/><path d="M480.0 6.3 L481.5 4.2 L483.0 6.3 M491.3 13.8 L493.3 15.3 L491.3 16.8"/></g>
<polygon points="486,6.3 486,12.7 490,9.5" fill="#38c038" stroke="#108810" stroke-width="0.6"/>
<rect x="501" y="0" width="1" height="20" fill="#9a9a9a" shape-rendering="crispEdges"/>
<rect x="502" y="0" width="25" height="20" fill="url(#dots)"/>
<g stroke="#4a4a4a" stroke-width="1" fill="none"><path d="M509.7 4.5 V18 M507.2 15.3 H521.2"/><path d="M508.2 6.3 L509.7 4.2 L511.2 6.3 M519.5 13.8 L521.5 15.3 L519.5 16.8"/></g>
<path d="M515.4 4 V14" stroke="#2060b0" stroke-width="1.1"/><path d="M521.5 9.5 H516.8 M519 7.4 L516.6 9.5 L519 11.6" stroke="#e05010" stroke-width="1.2" fill="none"/>
<rect x="530" y="0" width="1" height="20" fill="#9a9a9a" shape-rendering="crispEdges"/>
<path d="M540.8 2.8 H547.5 L551 6 V15 H540.8 Z" fill="#fcfcfc" stroke="#909090" stroke-width="1"/>
<path d="M545 5.5 C543.5 5.5 543.8 8 543 8.7 C543.8 9.4 543.5 12 545 12" fill="none" stroke="#606060" stroke-width="0.9"/>
<path d="M548 8.5 H551.6 V12.4 H555.6 V16 H551.6 V19.8 H548 V16 H544 V12.4 H548 Z" fill="url(#gplus)" stroke="#0a8a0a" stroke-width="0.7"/>
<polygon points="562,9 567.5,9 564.75,12.2" fill="#000"/>
<circle cx="585.8" cy="9.6" r="7.2" fill="#ffffff" stroke="url(#clk)" stroke-width="2.2"/>
<circle cx="585.8" cy="9.6" r="5.6" fill="#f0f6fc" stroke="#c8d8e8" stroke-width="0.5"/>
<path d="M585.8 6 V9.8 H588.8" stroke="#404850" stroke-width="1" fill="none"/>
<polygon points="601,9 606.5,9 603.75,12.2" fill="#000"/>
<rect x="617.5" y="3.5" width="15.5" height="13" fill="#ffffff" stroke="#2868c8" stroke-width="1.2"/>
<rect x="617.5" y="3.5" width="15.5" height="2" fill="#3a80e0"/>
<path d="M617.5 10.5 H633" stroke="#2868c8" stroke-width="0.9"/>
<path d="M619.5 9 L622 8.2 L624 8.8 L626.5 7.5 L629 8 L631.5 7" stroke="#c03020" stroke-width="1.1" fill="none"/>
<path d="M619.5 14.5 L622 13 L624 14.3 L626.5 12.6 L629 14.2 L631.5 13" stroke="#20a030" stroke-width="1.1" fill="none"/>
<polygon points="640,9 645.5,9 642.75,12.2" fill="#000"/>
<rect x="651" y="0" width="1" height="21" fill="#b0b0b0" shape-rendering="crispEdges"/>
<g shape-rendering="crispEdges" fill="#a8a8a8"><rect x="655" y="1" width="3" height="1"/><rect x="655" y="3" width="3" height="1"/><rect x="655" y="5" width="3" height="1"/><rect x="655" y="7" width="3" height="1"/><rect x="655" y="9" width="3" height="1"/><rect x="655" y="11" width="3" height="1"/><rect x="655" y="13" width="3" height="1"/><rect x="655" y="15" width="3" height="1"/><rect x="655" y="17" width="3" height="1"/></g>
<rect x="661" y="0" width="1" height="20" fill="#b0b0b0" shape-rendering="crispEdges"/>
<rect x="662" y="0" width="25" height="20" fill="url(#dots)"/>
<path d="M669 3.5 V15.3 L671.8 12.7 L674.2 17.3 L676 16.4 L673.8 12 L677.6 12 Z" fill="#303030"/>
<path d="M701.3 3 V17.4 M694 10.2 H708.6" stroke="#505050" stroke-width="1"/>
<rect x="718" y="0" width="1" height="20" fill="#9a9a9a" shape-rendering="crispEdges"/>
<path d="M735.5 4 V17" stroke="#505050" stroke-width="1.1"/>
<path d="M758 10.3 H770" stroke="#505050" stroke-width="1.1"/>
<path d="M786 17 L798.5 5" stroke="#505050" stroke-width="1.1"/>
<g stroke="#505050" stroke-width="0.9" fill="none"><path d="M812 13.5 L825 5 M813 16.5 L826 8 M815 9 L817.5 17 M818.5 7 L821 15 M822 5 L824.5 12.5"/></g>
<text x="823.5" y="18.6" font-family="Liberation Sans, sans-serif" font-size="6.5" font-weight="bold" fill="#404040">E</text>
<g stroke="#505050" stroke-width="1" stroke-dasharray="1,1" shape-rendering="crispEdges"><path d="M840 3.5 H854 M840 7.5 H854 M840 10.5 H854 M840 14.5 H850"/></g>
<text x="851" y="18.8" font-family="Liberation Sans, sans-serif" font-size="6.5" font-weight="bold" fill="#404040">F</text>
<text x="875.8" y="15" font-family="Liberation Sans, sans-serif" font-size="12" font-weight="bold" fill="#5a5a5a" text-anchor="middle">A</text>
<rect x="897.5" y="3.5" width="12" height="13" fill="none" stroke="#505050" stroke-width="1" stroke-dasharray="1,1" shape-rendering="crispEdges"/>
<text x="903.8" y="15" font-family="Liberation Sans, sans-serif" font-size="11" font-weight="bold" fill="#505050" text-anchor="middle">T</text>
<path d="M927.5 4 L931 7.2 L927.5 10.4 L924 7.2 Z M935.5 10.2 L939 13.4 L935.5 16.6 L932 13.4 Z" fill="#404040"/>
<path d="M926.5 12 L929.3 15 L933.6 9.5" stroke="#404040" stroke-width="1.3" fill="none"/>
<polygon points="945.5,9 951.0,9 948.25,12.2" fill="#000"/>
<rect x="957" y="0" width="1" height="21" fill="#b0b0b0" shape-rendering="crispEdges"/>
<g shape-rendering="crispEdges" fill="#a8a8a8"><rect x="961" y="1" width="3" height="1"/><rect x="961" y="3" width="3" height="1"/><rect x="961" y="5" width="3" height="1"/><rect x="961" y="7" width="3" height="1"/><rect x="961" y="9" width="3" height="1"/><rect x="961" y="11" width="3" height="1"/><rect x="961" y="13" width="3" height="1"/><rect x="961" y="15" width="3" height="1"/><rect x="961" y="17" width="3" height="1"/></g>
<rect x="1136" y="0" width="25" height="20" fill="url(#dots)"/>
<rect x="1135" y="0" width="1" height="20" fill="#9a9a9a" shape-rendering="crispEdges"/>
<rect x="1218" y="0" width="1" height="21" fill="#a0a0a0" shape-rendering="crispEdges"/>
<text x="978.9" y="14" font-family="Liberation Sans, sans-serif" font-size="9.6" fill="#404040" text-anchor="middle">M1</text>
<text x="1006.8" y="14" font-family="Liberation Sans, sans-serif" font-size="9.6" fill="#404040" text-anchor="middle">M5</text>
<text x="1035.3" y="14" font-family="Liberation Sans, sans-serif" font-size="9.6" fill="#404040" text-anchor="middle">M15</text>
<text x="1063.4" y="14" font-family="Liberation Sans, sans-serif" font-size="9.6" fill="#404040" text-anchor="middle">M30</text>
<text x="1091.3" y="14" font-family="Liberation Sans, sans-serif" font-size="9.6" fill="#404040" text-anchor="middle">H1</text>
<text x="1118.5" y="14" font-family="Liberation Sans, sans-serif" font-size="9.6" fill="#404040" text-anchor="middle">H4</text>
<text x="1147.2" y="14" font-family="Liberation Sans, sans-serif" font-size="9.6" fill="#404040" text-anchor="middle">D1</text>
<text x="1176.1" y="14" font-family="Liberation Sans, sans-serif" font-size="9.6" fill="#404040" text-anchor="middle">W1</text>
<text x="1202.8" y="14" font-family="Liberation Sans, sans-serif" font-size="9.6" fill="#404040" text-anchor="middle">MN</text>
<line x1="1685.6" y1="10.6" x2="1681" y2="15" stroke="#2a5ad8" stroke-width="2.6" stroke-linecap="round"/>
<circle cx="1688.6" cy="7.4" r="4.1" fill="#f6f6ff" stroke="#2a5ad8" stroke-width="1.3"/>
<path d="M1705 12.2 C1705 6.5 1716 6.5 1716 12.2 C1716 15.5 1712 16.5 1710 16.3 L1708.4 18.3 L1708 16 C1706 15.4 1705 14 1705 12.2 Z" fill="#e4e6f0" stroke="#a8a8a8" stroke-width="0.9"/>
<circle cx="1719.4" cy="7.4" r="8.2" fill="url(#badge)"/>
<text x="1718.6" y="12" font-family="Liberation Sans, sans-serif" font-size="12.5" font-weight="bold" fill="#ffffff" text-anchor="middle">1</text>
</svg>
</body></html>
